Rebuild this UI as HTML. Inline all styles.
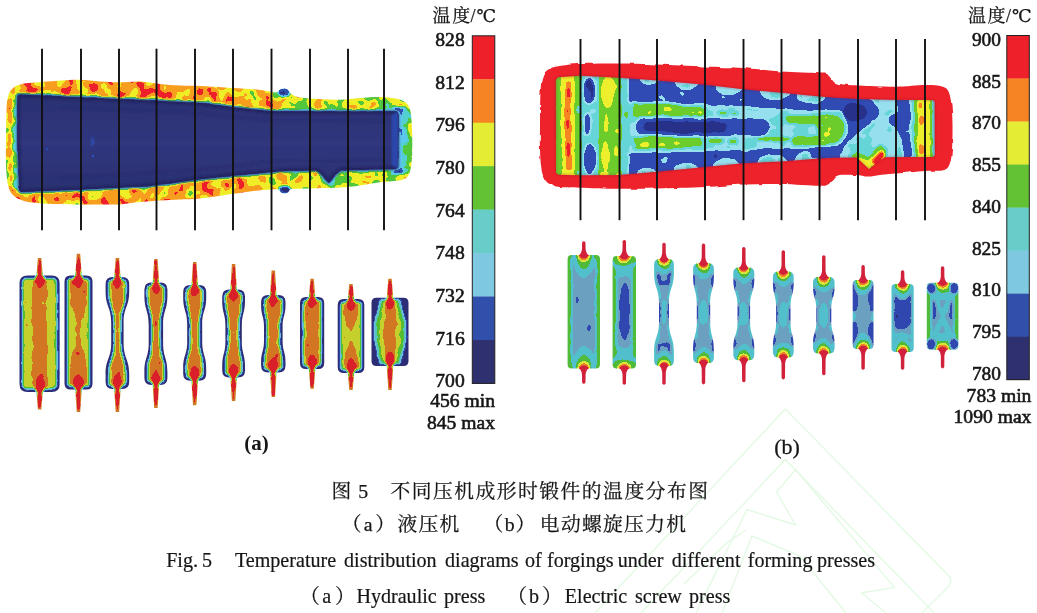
<!DOCTYPE html>
<html lang="zh"><head><meta charset="utf-8"><title>Fig. 5</title>
<style>html,body{margin:0;padding:0;background:#fff}body{width:1037px;height:613px;overflow:hidden;position:relative}svg{position:absolute;left:0;top:0;display:block}text{fill:#161616}</style>
</head><body>
<svg width="1037" height="613" viewBox="0 0 1037 613">
<defs>
<clipPath id="cOA"><path d="M6.0 140.0 C6.1 130.8 6.2 117.2 6.5 110.0 C6.8 102.8 7.1 100.5 8.0 97.0 C8.9 93.5 9.7 91.2 12.0 89.0 C14.3 86.8 17.0 85.2 22.0 84.0 C27.0 82.8 35.3 82.6 42.0 82.0 C48.7 81.4 55.7 80.9 62.0 80.5 C68.3 80.1 73.7 79.6 80.0 79.8 C86.3 80.0 93.5 81.1 100.0 81.5 C106.5 81.9 112.3 82.3 119.0 82.3 C125.7 82.3 133.2 81.2 140.0 81.5 C146.8 81.8 153.3 83.3 160.0 84.0 C166.7 84.7 173.3 85.2 180.0 85.5 C186.7 85.8 192.5 85.7 200.0 86.0 C207.5 86.3 216.7 87.0 225.0 87.5 C233.3 88.0 243.3 88.5 250.0 89.0 C256.7 89.5 261.5 90.3 265.0 90.8 C268.5 91.2 269.0 91.5 271.0 91.7 C273.0 92.0 275.5 92.7 277.0 92.3 C278.5 91.9 278.8 90.2 280.0 89.6 C281.2 89.0 282.7 88.6 284.0 88.6 C285.3 88.6 286.8 88.9 288.0 89.8 C289.2 90.7 289.0 92.5 291.0 93.8 C293.0 95.1 294.3 96.5 300.0 97.4 C305.7 98.3 318.3 98.9 325.0 99.3 C331.7 99.7 334.2 99.9 340.0 99.7 C345.8 99.5 353.3 98.5 360.0 98.0 C366.7 97.5 374.2 96.9 380.0 97.0 C385.8 97.1 390.8 97.8 395.0 98.6 C399.2 99.4 402.5 100.1 405.0 102.0 C407.5 103.9 409.1 106.2 410.2 110.0 C411.3 113.8 411.4 119.2 411.8 125.0 C412.2 130.8 412.3 138.8 412.3 145.0 C412.3 151.2 412.2 157.2 411.6 162.0 C411.1 166.8 410.4 171.1 409.0 174.0 C407.6 176.9 406.2 178.3 403.0 179.6 C399.8 180.8 393.8 181.1 390.0 181.5 C386.2 181.9 385.0 181.6 380.0 182.3 C375.0 183.0 366.7 184.6 360.0 185.5 C353.3 186.4 347.5 187.1 340.0 187.6 C332.5 188.1 321.7 188.1 315.0 188.3 C308.3 188.5 304.0 188.6 300.0 188.7 C296.0 188.8 293.0 188.4 291.0 189.0 C289.0 189.6 289.1 191.7 288.0 192.4 C286.9 193.1 285.7 193.4 284.5 193.4 C283.3 193.4 282.1 193.0 281.0 192.4 C279.9 191.8 279.8 190.1 278.0 189.6 C276.2 189.1 274.7 189.2 270.0 189.5 C265.3 189.8 257.5 190.6 250.0 191.5 C242.5 192.4 233.3 193.8 225.0 195.0 C216.7 196.2 207.5 197.8 200.0 198.5 C192.5 199.2 186.7 199.2 180.0 199.5 C173.3 199.8 166.7 200.1 160.0 200.5 C153.3 200.9 146.8 201.3 140.0 202.0 C133.2 202.7 125.7 204.0 119.0 204.4 C112.3 204.8 106.5 204.5 100.0 204.5 C93.5 204.5 86.7 204.7 80.0 204.6 C73.3 204.5 66.3 204.2 60.0 204.0 C53.7 203.8 48.0 203.9 42.0 203.4 C36.0 202.9 28.8 202.4 24.0 201.0 C19.2 199.6 15.7 197.7 13.0 195.0 C10.3 192.3 9.2 190.0 8.0 185.0 C6.8 180.0 6.3 172.5 6.0 165.0 C5.7 157.5 5.9 149.2 6.0 140.0Z"/></clipPath>
<filter id="jA" filterUnits="userSpaceOnUse" x="0" y="70" width="425" height="145" color-interpolation-filters="sRGB"><feGaussianBlur in="SourceGraphic" stdDeviation="1.3" result="f"/><feTurbulence type="fractalNoise" baseFrequency="0.08" numOctaves="2" seed="7" result="t"/><feColorMatrix in="t" type="matrix" values="1 0 0 0 0 1 0 0 0 0 1 0 0 0 0 0 0 0 0 1" result="n"/><feComposite in="f" in2="n" operator="arithmetic" k1="0" k2="1" k3="0.62" k4="-0.3100" result="v"/><feComponentTransfer in="v" result="q"><feFuncR type="discrete" tableValues="0.157 0.192 0.361 0.322 0.322 0.941 0.976 0.933"/><feFuncG type="discrete" tableValues="0.188 0.314 0.784 0.816 0.784 0.933 0.620 0.125"/><feFuncB type="discrete" tableValues="0.486 0.671 0.933 0.816 0.235 0.149 0.125 0.165"/></feComponentTransfer><feGaussianBlur in="q" stdDeviation="0.55"/></filter>
<linearGradient id="gAr" x1="0" x2="425" y1="0" y2="0" gradientUnits="userSpaceOnUse"><stop offset="0" stop-color="rgb(207,207,207)"/><stop offset="0.52" stop-color="rgb(207,207,207)"/><stop offset="0.70" stop-color="rgb(177,177,177)"/><stop offset="0.93" stop-color="rgb(159,159,159)"/></linearGradient>
<filter id="soft1" x="-5%" y="-5%" width="110%" height="110%"><feGaussianBlur stdDeviation="0.8"/></filter>
<linearGradient id="gNavy" x1="0" x2="0" y1="95" y2="190" gradientUnits="userSpaceOnUse"><stop offset="0" stop-color="#2b3071"/><stop offset="0.5" stop-color="#30377d"/><stop offset="1" stop-color="#2b3071"/></linearGradient>
<clipPath id="cIA"><path d="M17.5,96.0 L19.0,94.6 L80.0,97.5 L150.0,100.6 L200.0,103.0 L235.0,107.5 L271.0,111.2 L320.0,111.4 L380.0,111.4 L396.0,111.6 L398.0,113.5 L398.3,140.0 L398.0,167.0 L396.0,169.0 L341.0,170.3 L335.0,175.0 L328.5,182.5 L322.0,175.0 L317.0,170.5 L290.0,170.5 L271.0,172.0 L235.0,175.5 L200.0,179.3 L150.0,186.0 L80.0,189.5 L21.0,191.8 L19.3,190.0 L17.6,143.0Z"/></clipPath>
<clipPath id="cIB"><path d="M555.8,80.0 L558.0,77.3 L580.0,75.8 L619.0,77.7 L657.0,80.5 L705.0,84.7 L743.0,89.2 L781.0,92.8 L819.0,96.5 L835.0,97.7 L858.0,99.0 L896.0,100.0 L925.0,100.0 L933.0,100.3 L934.6,102.0 L934.8,155.0 L933.0,157.0 L896.0,157.0 L884.4,157.2 L876.0,163.5 L869.0,169.0 L862.0,162.5 L857.0,157.5 L835.0,157.7 L819.0,158.5 L781.0,161.4 L743.0,163.2 L705.0,167.0 L657.0,171.8 L619.0,175.0 L580.0,175.2 L558.0,174.7 L556.0,172.5Z"/></clipPath>
<filter id="jB" filterUnits="userSpaceOnUse" x="545" y="65" width="400" height="120" color-interpolation-filters="sRGB"><feGaussianBlur in="SourceGraphic" stdDeviation="1.05" result="f"/><feTurbulence type="fractalNoise" baseFrequency="0.065" numOctaves="2" seed="11" result="t"/><feColorMatrix in="t" type="matrix" values="1 0 0 0 0 1 0 0 0 0 1 0 0 0 0 0 0 0 0 1" result="n"/><feComposite in="f" in2="n" operator="arithmetic" k1="0" k2="1" k3="0.24" k4="-0.1200" result="v"/><feComponentTransfer in="v" result="q"><feFuncR type="discrete" tableValues="0.157 0.196 0.588 0.400 0.424 0.933 0.965 0.933"/><feFuncG type="discrete" tableValues="0.196 0.298 0.878 0.839 0.800 0.941 0.518 0.125"/><feFuncB type="discrete" tableValues="0.541 0.706 0.941 0.847 0.173 0.173 0.141 0.165"/></feComponentTransfer><feGaussianBlur in="q" stdDeviation="0.55"/></filter>
<filter id="wob" x="-3%" y="-10%" width="106%" height="120%"><feTurbulence type="fractalNoise" baseFrequency="0.07" numOctaves="2" seed="4" result="t"/><feDisplacementMap in="SourceGraphic" in2="t" scale="3.5" xChannelSelector="R" yChannelSelector="G"/><feGaussianBlur stdDeviation="0.5"/></filter>
<filter id="jSA" filterUnits="userSpaceOnUse" x="10" y="250" width="410" height="165" color-interpolation-filters="sRGB"><feGaussianBlur in="SourceGraphic" stdDeviation="1.0" result="f"/><feTurbulence type="fractalNoise" baseFrequency="0.1" numOctaves="2" seed="2" result="t"/><feColorMatrix in="t" type="matrix" values="1 0 0 0 0 1 0 0 0 0 1 0 0 0 0 0 0 0 0 1" result="n"/><feComposite in="f" in2="n" operator="arithmetic" k1="0" k2="1" k3="0.2" k4="-0.1000" result="v"/><feComponentTransfer in="v" result="q"><feFuncR type="discrete" tableValues="0.173 0.184 0.439 0.345 0.337 0.776 0.824 0.851"/><feFuncG type="discrete" tableValues="0.180 0.298 0.737 0.769 0.745 0.816 0.463 0.125"/><feFuncB type="discrete" tableValues="0.455 0.682 0.847 0.753 0.204 0.173 0.141 0.165"/></feComponentTransfer><feGaussianBlur in="q" stdDeviation="0.55"/></filter>
<clipPath id="cSA"><path d="M27.5 275.5 L51.7 275.5 Q59.7 275.5 59.7 283.5 L59.7 384.0 Q59.7 392.0 51.7 392.0 L27.5 392.0 Q19.5 392.0 19.5 384.0 L19.5 283.5 Q19.5 275.5 27.5 275.5Z"/><path d="M37.9 258.1 L41.3 258.1 L43.0 277.5 L36.2 277.5Z"/><path d="M37.9 409.5 L41.3 409.5 L43.0 390.0 L36.2 390.0Z"/><path d="M70.5 275.5 L86.5 275.5 Q92.5 275.5 92.5 281.5 L92.5 383.5 Q92.5 389.5 86.5 389.5 L70.5 389.5 Q64.5 389.5 64.5 383.5 L64.5 281.5 Q64.5 275.5 70.5 275.5Z"/><path d="M76.8 253.8 L80.2 253.8 L81.9 277.5 L75.1 277.5Z"/><path d="M76.8 411.9 L80.2 411.9 L81.9 387.5 L75.1 387.5Z"/><path d="M112.6 277.0 L122.2 277.0 Q129.2 277.0 129.2 284.0 L129.2 291.6 C129.2 307.2 123.6 307.2 123.6 322.9 L123.6 343.1 C123.6 358.8 129.2 358.8 129.2 374.4 L129.2 382.0 Q129.2 389.0 122.2 389.0 L112.6 389.0 Q105.6 389.0 105.6 382.0 L105.6 374.4 C105.6 358.8 111.2 358.8 111.2 343.1 L111.2 322.9 C111.2 307.2 105.6 307.2 105.6 291.6 L105.6 284.0 Q105.6 277.0 112.6 277.0Z"/><path d="M115.7 258.1 L119.1 258.1 L120.8 279.0 L114.0 279.0Z"/><path d="M115.7 411.9 L119.1 411.9 L120.8 387.0 L114.0 387.0Z"/><path d="M151.4 282.4 L160.4 282.4 Q167.4 282.4 167.4 289.4 L167.4 295.7 C167.4 310.1 163.1 310.1 163.1 324.5 L163.1 342.9 C163.1 357.3 167.4 357.3 167.4 371.7 L167.4 378.0 Q167.4 385.0 160.4 385.0 L151.4 385.0 Q144.4 385.0 144.4 378.0 L144.4 371.7 C144.4 357.3 148.7 357.3 148.7 342.9 L148.7 324.5 C148.7 310.1 144.4 310.1 144.4 295.7 L144.4 289.4 Q144.4 282.4 151.4 282.4Z"/><path d="M154.2 259.1 L157.6 259.1 L159.3 284.4 L152.5 284.4Z"/><path d="M154.2 407.9 L157.6 407.9 L159.3 383.0 L152.5 383.0Z"/><path d="M190.2 285.0 L199.2 285.0 Q206.2 285.0 206.2 292.0 L206.2 297.5 C206.2 310.9 202.2 310.9 202.2 324.3 L202.2 341.5 C202.2 354.9 206.2 354.9 206.2 368.3 L206.2 373.8 Q206.2 380.8 199.2 380.8 L190.2 380.8 Q183.2 380.8 183.2 373.8 L183.2 368.3 C183.2 354.9 187.2 354.9 187.2 341.5 L187.2 324.3 C187.2 310.9 183.2 310.9 183.2 297.5 L183.2 292.0 Q183.2 285.0 190.2 285.0Z"/><path d="M193.0 262.1 L196.4 262.1 L198.1 287.0 L191.3 287.0Z"/><path d="M193.0 405.3 L196.4 405.3 L198.1 378.8 L191.3 378.8Z"/><path d="M229.2 289.4 L238.0 289.4 Q245.0 289.4 245.0 296.4 L245.0 300.9 C245.0 313.2 241.8 313.2 241.8 325.5 L241.8 341.4 C241.8 353.7 245.0 353.7 245.0 366.0 L245.0 370.5 Q245.0 377.5 238.0 377.5 L229.2 377.5 Q222.2 377.5 222.2 370.5 L222.2 366.0 C222.2 353.7 225.4 353.7 225.4 341.4 L225.4 325.5 C225.4 313.2 222.2 313.2 222.2 300.9 L222.2 296.4 Q222.2 289.4 229.2 289.4Z"/><path d="M231.9 264.1 L235.3 264.1 L237.0 291.4 L230.2 291.4Z"/><path d="M231.9 400.9 L235.3 400.9 L237.0 375.5 L230.2 375.5Z"/><path d="M268.1 295.0 L278.5 295.0 Q285.5 295.0 285.5 302.0 L285.5 305.1 C285.5 316.0 282.6 316.0 282.6 326.8 L282.6 340.8 C282.6 351.6 285.5 351.6 285.5 362.5 L285.5 365.6 Q285.5 372.6 278.5 372.6 L268.1 372.6 Q261.1 372.6 261.1 365.6 L261.1 362.5 C261.1 351.6 264.0 351.6 264.0 340.8 L264.0 326.8 C264.0 316.0 261.1 316.0 261.1 305.1 L261.1 302.0 Q261.1 295.0 268.1 295.0Z"/><path d="M271.6 270.4 L275.0 270.4 L276.7 297.0 L269.9 297.0Z"/><path d="M271.6 396.9 L275.0 396.9 L276.7 370.6 L269.9 370.6Z"/><path d="M306.0 297.0 L318.2 297.0 Q324.2 297.0 324.2 303.0 L324.2 363.0 Q324.2 369.0 318.2 369.0 L306.0 369.0 Q300.0 369.0 300.0 363.0 L300.0 303.0 Q300.0 297.0 306.0 297.0Z"/><path d="M310.4 278.8 L313.8 278.8 L315.5 299.0 L308.7 299.0Z"/><path d="M310.4 388.7 L313.8 388.7 L315.5 367.0 L308.7 367.0Z"/><path d="M343.7 299.0 L358.3 299.0 Q364.3 299.0 364.3 305.0 L364.3 367.0 Q364.3 373.0 358.3 373.0 L343.7 373.0 Q337.7 373.0 337.7 367.0 L337.7 305.0 Q337.7 299.0 343.7 299.0Z"/><path d="M349.3 284.1 L352.7 284.1 L354.4 301.0 L347.6 301.0Z"/><path d="M349.3 389.9 L352.7 389.9 L354.4 371.0 L347.6 371.0Z"/><path d="M376.5 297.7 L403.5 297.7 Q408.5 297.7 408.5 302.7 L408.5 361.0 Q408.5 366.0 403.5 366.0 L376.5 366.0 Q371.5 366.0 371.5 361.0 L371.5 302.7 Q371.5 297.7 376.5 297.7Z"/><path d="M388.3 278.8 L391.7 278.8 L393.4 299.7 L386.6 299.7Z"/><path d="M388.3 389.9 L391.7 389.9 L393.4 364.0 L386.6 364.0Z"/></clipPath>
<filter id="jSB" filterUnits="userSpaceOnUse" x="560" y="235" width="405" height="155" color-interpolation-filters="sRGB"><feGaussianBlur in="SourceGraphic" stdDeviation="0.9" result="f"/><feTurbulence type="fractalNoise" baseFrequency="0.09" numOctaves="2" seed="5" result="t"/><feColorMatrix in="t" type="matrix" values="1 0 0 0 0 1 0 0 0 0 1 0 0 0 0 0 0 0 0 1" result="n"/><feComposite in="f" in2="n" operator="arithmetic" k1="0" k2="1" k3="0.14" k4="-0.0700" result="v"/><feComponentTransfer in="v" result="q"><feFuncR type="discrete" tableValues="0.184 0.188 0.420 0.322 0.314 0.863 0.933 0.863"/><feFuncG type="discrete" tableValues="0.188 0.282 0.631 0.753 0.737 0.894 0.518 0.125"/><feFuncB type="discrete" tableValues="0.439 0.690 0.753 0.800 0.235 0.227 0.157 0.188"/></feComponentTransfer><feGaussianBlur in="q" stdDeviation="0.55"/></filter>
<clipPath id="cSB"><path d="M571.6 255.0 L596.0 255.0 Q600.0 255.0 600.0 259.0 L600.0 364.6 Q600.0 368.6 596.0 368.6 L571.6 368.6 Q567.6 368.6 567.6 364.6 L567.6 259.0 Q567.6 255.0 571.6 255.0Z"/><path d="M616.6 256.0 L632.0 256.0 Q636.0 256.0 636.0 260.0 L636.0 364.6 Q636.0 368.6 632.0 368.6 L616.6 368.6 Q612.6 368.6 612.6 364.6 L612.6 260.0 Q612.6 256.0 616.6 256.0Z"/><path d="M659.6 259.0 L668.4 259.0 Q673.9 259.0 673.9 264.5 L673.9 272.9 C673.9 287.9 669.0 287.9 669.0 302.9 L669.0 322.1 C669.0 337.1 673.9 337.1 673.9 352.1 L673.9 360.5 Q673.9 366.0 668.4 366.0 L659.6 366.0 Q654.1 366.0 654.1 360.5 L654.1 352.1 C654.1 337.1 659.0 337.1 659.0 322.1 L659.0 302.9 C659.0 287.9 654.1 287.9 654.1 272.9 L654.1 264.5 Q654.1 259.0 659.6 259.0Z"/><path d="M698.6 263.3 L708.4 263.3 Q713.9 263.3 713.9 268.8 L713.9 276.3 C713.9 290.2 710.2 290.2 710.2 304.2 L710.2 322.1 C710.2 336.1 713.9 336.1 713.9 350.0 L713.9 357.5 Q713.9 363.0 708.4 363.0 L698.6 363.0 Q693.1 363.0 693.1 357.5 L693.1 350.0 C693.1 336.1 696.8 336.1 696.8 322.1 L696.8 304.2 C696.8 290.2 693.1 290.2 693.1 276.3 L693.1 268.8 Q693.1 263.3 698.6 263.3Z"/><path d="M738.8 267.4 L748.8 267.4 Q754.3 267.4 754.3 272.9 L754.3 279.5 C754.3 292.5 750.1 292.5 750.1 305.5 L750.1 322.2 C750.1 335.2 754.3 335.2 754.3 348.2 L754.3 354.8 Q754.3 360.3 748.8 360.3 L738.8 360.3 Q733.3 360.3 733.3 354.8 L733.3 348.2 C733.3 335.2 737.5 335.2 737.5 322.2 L737.5 305.5 C737.5 292.5 733.3 292.5 733.3 279.5 L733.3 272.9 Q733.3 267.4 738.8 267.4Z"/><path d="M778.4 271.6 L788.2 271.6 Q793.7 271.6 793.7 277.1 L793.7 282.8 C793.7 294.8 790.5 294.8 790.5 306.8 L790.5 322.3 C790.5 334.3 793.7 334.3 793.7 346.3 L793.7 352.0 Q793.7 357.5 788.2 357.5 L778.4 357.5 Q772.9 357.5 772.9 352.0 L772.9 346.3 C772.9 334.3 776.1 334.3 776.1 322.3 L776.1 306.8 C776.1 294.8 772.9 294.8 772.9 282.8 L772.9 277.1 Q772.9 271.6 778.4 271.6Z"/><path d="M818.5 277.0 L829.1 277.0 Q834.6 277.0 834.6 282.5 L834.6 286.9 C834.6 297.6 831.3 297.6 831.3 308.3 L831.3 322.1 C831.3 332.8 834.6 332.8 834.6 343.5 L834.6 347.9 Q834.6 353.4 829.1 353.4 L818.5 353.4 Q813.0 353.4 813.0 347.9 L813.0 343.5 C813.0 332.8 816.3 332.8 816.3 322.1 L816.3 308.3 C816.3 297.6 813.0 297.6 813.0 286.9 L813.0 282.5 Q813.0 277.0 818.5 277.0Z"/><path d="M856.7 280.0 L869.5 280.0 Q873.5 280.0 873.5 284.0 L873.5 345.0 Q873.5 349.0 869.5 349.0 L856.7 349.0 Q852.7 349.0 852.7 345.0 L852.7 284.0 Q852.7 280.0 856.7 280.0Z"/><path d="M895.5 284.0 L909.7 284.0 Q913.7 284.0 913.7 288.0 L913.7 348.0 Q913.7 352.0 909.7 352.0 L895.5 352.0 Q891.5 352.0 891.5 348.0 L891.5 288.0 Q891.5 284.0 895.5 284.0Z"/><path d="M930.8 282.7 L954.4 282.7 Q958.4 282.7 958.4 286.7 L958.4 345.8 Q958.4 349.8 954.4 349.8 L930.8 349.8 Q926.8 349.8 926.8 345.8 L926.8 286.7 Q926.8 282.7 930.8 282.7Z"/></clipPath>
<filter id="soft2" x="-20%" y="-5%" width="140%" height="110%"><feGaussianBlur stdDeviation="0.55"/></filter>
</defs>
<g fill="none" stroke="#e4f9e4" stroke-width="1.4" stroke-linejoin="round"><path d="M595 613 L785.3 409 L948 575 Q953.5 581 948 587 L922 613"/><path d="M641 613 L785.3 459.5 L934 613"/><path d="M696 613 L747 509.5 L795.6 525 L776.5 492 L795.6 469.5 L894.6 587.6 L861.6 592.8 L886 613"/><path d="M722 613 L752 536 L800 556 L846 613"/><path d="M684 584 L726.6 543 L746 530"/></g>
<g><rect x="472.3" y="35.80" width="22.5" height="43.75" fill="#ee202a"/><rect x="472.3" y="79.25" width="22.5" height="43.75" fill="#f68424"/><rect x="472.3" y="122.70" width="22.5" height="43.75" fill="#e4ec34"/><rect x="472.3" y="166.15" width="22.5" height="43.75" fill="#62c234"/><rect x="472.3" y="209.60" width="22.5" height="43.75" fill="#68cdc9"/><rect x="472.3" y="253.05" width="22.5" height="43.75" fill="#7fc8e1"/><rect x="472.3" y="296.50" width="22.5" height="43.75" fill="#3150ab"/><rect x="472.3" y="339.95" width="22.5" height="43.75" fill="#2f3070"/><rect x="472.3" y="35.8" width="22.5" height="347.59999999999997" fill="none" stroke="#222" stroke-width="1"/></g>
<g><rect x="1006.8" y="35.50" width="22.5" height="43.32" fill="#ee202a"/><rect x="1006.8" y="78.53" width="22.5" height="43.32" fill="#f68424"/><rect x="1006.8" y="121.55" width="22.5" height="43.32" fill="#e4ec34"/><rect x="1006.8" y="164.57" width="22.5" height="43.32" fill="#62c234"/><rect x="1006.8" y="207.60" width="22.5" height="43.32" fill="#68cdc9"/><rect x="1006.8" y="250.62" width="22.5" height="43.32" fill="#7fc8e1"/><rect x="1006.8" y="293.65" width="22.5" height="43.32" fill="#3150ab"/><rect x="1006.8" y="336.68" width="22.5" height="43.32" fill="#2f3070"/><rect x="1006.8" y="35.5" width="22.5" height="344.2" fill="none" stroke="#222" stroke-width="1"/></g>
<text x="464.7" y="45.8" font-size="19.6" font-weight="normal" text-anchor="end" font-family='"Liberation Serif","Noto Serif CJK SC",serif' stroke="#161616" stroke-width="0.6">828</text>
<text x="464.7" y="88.5" font-size="19.6" font-weight="normal" text-anchor="end" font-family='"Liberation Serif","Noto Serif CJK SC",serif' stroke="#161616" stroke-width="0.6">812</text>
<text x="464.7" y="131.2" font-size="19.6" font-weight="normal" text-anchor="end" font-family='"Liberation Serif","Noto Serif CJK SC",serif' stroke="#161616" stroke-width="0.6">796</text>
<text x="464.7" y="173.90000000000003" font-size="19.6" font-weight="normal" text-anchor="end" font-family='"Liberation Serif","Noto Serif CJK SC",serif' stroke="#161616" stroke-width="0.6">780</text>
<text x="464.7" y="216.60000000000002" font-size="19.6" font-weight="normal" text-anchor="end" font-family='"Liberation Serif","Noto Serif CJK SC",serif' stroke="#161616" stroke-width="0.6">764</text>
<text x="464.7" y="259.3" font-size="19.6" font-weight="normal" text-anchor="end" font-family='"Liberation Serif","Noto Serif CJK SC",serif' stroke="#161616" stroke-width="0.6">748</text>
<text x="464.7" y="302.00000000000006" font-size="19.6" font-weight="normal" text-anchor="end" font-family='"Liberation Serif","Noto Serif CJK SC",serif' stroke="#161616" stroke-width="0.6">732</text>
<text x="464.7" y="344.70000000000005" font-size="19.6" font-weight="normal" text-anchor="end" font-family='"Liberation Serif","Noto Serif CJK SC",serif' stroke="#161616" stroke-width="0.6">716</text>
<text x="464.7" y="387.40000000000003" font-size="19.6" font-weight="normal" text-anchor="end" font-family='"Liberation Serif","Noto Serif CJK SC",serif' stroke="#161616" stroke-width="0.6">700</text>
<text x="1001.0" y="45.8" font-size="19.4" font-weight="normal" text-anchor="end" font-family='"Liberation Serif","Noto Serif CJK SC",serif' stroke="#161616" stroke-width="0.6">900</text>
<text x="1001.0" y="87.56" font-size="19.4" font-weight="normal" text-anchor="end" font-family='"Liberation Serif","Noto Serif CJK SC",serif' stroke="#161616" stroke-width="0.6">885</text>
<text x="1001.0" y="129.32" font-size="19.4" font-weight="normal" text-anchor="end" font-family='"Liberation Serif","Noto Serif CJK SC",serif' stroke="#161616" stroke-width="0.6">870</text>
<text x="1001.0" y="171.07999999999998" font-size="19.4" font-weight="normal" text-anchor="end" font-family='"Liberation Serif","Noto Serif CJK SC",serif' stroke="#161616" stroke-width="0.6">855</text>
<text x="1001.0" y="212.83999999999997" font-size="19.4" font-weight="normal" text-anchor="end" font-family='"Liberation Serif","Noto Serif CJK SC",serif' stroke="#161616" stroke-width="0.6">840</text>
<text x="1001.0" y="254.59999999999997" font-size="19.4" font-weight="normal" text-anchor="end" font-family='"Liberation Serif","Noto Serif CJK SC",serif' stroke="#161616" stroke-width="0.6">825</text>
<text x="1001.0" y="296.36" font-size="19.4" font-weight="normal" text-anchor="end" font-family='"Liberation Serif","Noto Serif CJK SC",serif' stroke="#161616" stroke-width="0.6">810</text>
<text x="1001.0" y="338.12" font-size="19.4" font-weight="normal" text-anchor="end" font-family='"Liberation Serif","Noto Serif CJK SC",serif' stroke="#161616" stroke-width="0.6">795</text>
<text x="1001.0" y="379.88" font-size="19.4" font-weight="normal" text-anchor="end" font-family='"Liberation Serif","Noto Serif CJK SC",serif' stroke="#161616" stroke-width="0.6">780</text>
<text x="495" y="406.8" font-size="19.6" font-weight="normal" text-anchor="end" font-family='"Liberation Serif","Noto Serif CJK SC",serif' stroke="#161616" stroke-width="0.6">456 min</text>
<text x="495" y="428.6" font-size="19.6" font-weight="normal" text-anchor="end" font-family='"Liberation Serif","Noto Serif CJK SC",serif' stroke="#161616" stroke-width="0.6">845 max</text>
<text x="1031.4" y="401.6" font-size="19.6" font-weight="normal" text-anchor="end" font-family='"Liberation Serif","Noto Serif CJK SC",serif' stroke="#161616" stroke-width="0.6">783 min</text>
<text x="1031.4" y="423.3" font-size="19.6" font-weight="normal" text-anchor="end" font-family='"Liberation Serif","Noto Serif CJK SC",serif' stroke="#161616" stroke-width="0.6">1090 max</text>
<text y="22.3" font-size="18" font-family='"Liberation Serif","DejaVu Serif","Noto Serif CJK SC",serif' stroke="#161616" stroke-width="0.25"><tspan x="432.6" letter-spacing="1.6">温度</tspan><tspan x="470.6">/</tspan><tspan x="476.6" font-size="17.5">℃</tspan></text>
<text y="22.3" font-size="18" font-family='"Liberation Serif","DejaVu Serif","Noto Serif CJK SC",serif' stroke="#161616" stroke-width="0.25"><tspan x="968" letter-spacing="1.6">温度</tspan><tspan x="1006">/</tspan><tspan x="1012" font-size="17.5">℃</tspan></text>
<text x="256.5" y="449.5" font-size="21" font-weight="bold" text-anchor="middle" font-family='"Liberation Serif","Noto Serif CJK SC",serif' >(a)</text>
<text x="787.1" y="454.2" font-size="22" font-weight="normal" text-anchor="middle" font-family='"Liberation Serif","Noto Serif CJK SC",serif' stroke="#161616" stroke-width="0.3">(b)</text>
<text y="497.6" font-size="19.8" stroke="#161616" stroke-width="0.25" font-family='"Liberation Serif","Noto Serif CJK SC",serif'><tspan x="331.6">图 </tspan><tspan x="358.2">5　</tspan><tspan x="390.4" letter-spacing="1.49">不同压机成形时锻件的温度分布图</tspan></text>
<text y="531.3" font-size="19.8" stroke="#161616" stroke-width="0.25" font-family='"Liberation Serif","Noto Serif CJK SC",serif'><tspan x="341.7">（</tspan><tspan x="363.8">a</tspan><tspan x="375.3">）</tspan><tspan x="397.6" letter-spacing="1.2">液压机　</tspan><tspan x="483.4">（</tspan><tspan x="504.8">b</tspan><tspan x="515.6">）</tspan><tspan x="539.8" letter-spacing="1.3">电动螺旋压力机</tspan></text>
<text y="567" font-size="20.1" stroke="#161616" stroke-width="0.2" font-family='"Liberation Serif","Noto Serif CJK SC",serif'><tspan x="166.2">Fig. </tspan><tspan x="202">5 </tspan><tspan x="234.9">Temperature </tspan><tspan x="344">distribution </tspan><tspan x="445">diagrams </tspan><tspan x="525">of </tspan><tspan x="547">forgings </tspan><tspan x="617.7">under </tspan><tspan x="671.7">different </tspan><tspan x="747.7">forming </tspan><tspan x="817">presses</tspan></text>
<text y="602.5" font-size="20.1" stroke="#161616" stroke-width="0.2" font-family='"Liberation Serif","Noto Serif CJK SC",serif'><tspan x="299.7">（</tspan><tspan x="322.2">a</tspan><tspan x="335">）</tspan><tspan x="356.4">Hydraulic </tspan><tspan x="444">press　</tspan><tspan x="507">（</tspan><tspan x="529">b</tspan><tspan x="542">）</tspan><tspan x="564.8">Electric </tspan><tspan x="635">screw </tspan><tspan x="689">press</tspan></text>
<g clip-path="url(#cOA)"><g filter="url(#jA)"><rect x="0" y="70" width="425" height="145" fill="url(#gAr)"/><path d="M9 92 L5 110 L5 170 L9 195" fill="none" stroke="rgb(175,175,175)" stroke-width="5"/><path d="M15 99 L14.5 140 L15.5 188" fill="none" stroke="rgb(131,131,131)" stroke-width="5"/><ellipse cx="284" cy="92" rx="6.5" ry="4.8" fill="rgb(35,35,35)"/><ellipse cx="284.5" cy="190.3" rx="6.5" ry="4.6" fill="rgb(35,35,35)"/><path d="M398 108 L398 172" fill="none" stroke="rgb(67,67,67)" stroke-width="9"/><path d="M405 108 L405 172" fill="none" stroke="rgb(118,118,118)" stroke-width="5"/><path d="M394 108 L404 108 L400 120 Z M394 172.5 L403 172.5 L400 162 Z" fill="rgb(41,41,41)" stroke="rgb(41,41,41)" stroke-width="2"/><path d="M17.5,96.0 L19.0,94.6 L80.0,97.5 L150.0,100.6 L200.0,103.0 L235.0,107.5 L271.0,111.2 L320.0,111.4 L380.0,111.4 L396.0,111.6 L398.0,113.5 L398.3,140.0 L398.0,167.0 L396.0,169.0 L341.0,170.3 L335.0,175.0 L328.5,182.5 L322.0,175.0 L317.0,170.5 L290.0,170.5 L271.0,172.0 L235.0,175.5 L200.0,179.3 L150.0,186.0 L80.0,189.5 L21.0,191.8 L19.3,190.0 L17.6,143.0Z" fill="rgb(16,16,16)" stroke="rgb(112,112,112)" stroke-width="3.6" stroke-linejoin="round"/><path d="M17.5,96.0 L19.0,94.6 L80.0,97.5 L150.0,100.6 L200.0,103.0 L235.0,107.5 L271.0,111.2 L320.0,111.4 L380.0,111.4 L396.0,111.6 L398.0,113.5 L398.3,140.0 L398.0,167.0 L396.0,169.0 L341.0,170.3 L335.0,175.0 L328.5,182.5 L322.0,175.0 L317.0,170.5 L290.0,170.5 L271.0,172.0 L235.0,175.5 L200.0,179.3 L150.0,186.0 L80.0,189.5 L21.0,191.8 L19.3,190.0 L17.6,143.0Z" fill="rgb(0,0,0)"/></g></g><path d="M17.5,96.0 L19.0,94.6 L80.0,97.5 L150.0,100.6 L200.0,103.0 L235.0,107.5 L271.0,111.2 L320.0,111.4 L380.0,111.4 L396.0,111.6 L398.0,113.5 L398.3,140.0 L398.0,167.0 L396.0,169.0 L341.0,170.3 L335.0,175.0 L328.5,182.5 L322.0,175.0 L317.0,170.5 L290.0,170.5 L271.0,172.0 L235.0,175.5 L200.0,179.3 L150.0,186.0 L80.0,189.5 L21.0,191.8 L19.3,190.0 L17.6,143.0Z" fill="url(#gNavy)" stroke="#2a2e6e" stroke-width="1.5" filter="url(#soft1)"/><g clip-path="url(#cIA)"><path d="M17.5,96.0 L19.0,94.6 L80.0,97.5 L150.0,100.6 L200.0,103.0 L235.0,107.5 L271.0,111.2 L320.0,111.4 L380.0,111.4 L396.0,111.6 L398.0,113.5 L398.3,140.0 L398.0,167.0 L396.0,169.0 L341.0,170.3 L335.0,175.0 L328.5,182.5 L322.0,175.0 L317.0,170.5 L290.0,170.5 L271.0,172.0 L235.0,175.5 L200.0,179.3 L150.0,186.0 L80.0,189.5 L21.0,191.8 L19.3,190.0 L17.6,143.0Z" fill="none" stroke="#1f235c" stroke-opacity="0.8" stroke-width="5" filter="url(#soft1)"/><path d="M391.5 115 L398.5 111 L398.5 169 L391.5 165 Z" fill="#2c47ac" filter="url(#soft1)"/><path d="M60 108 L200 113 L270 121 L385 121.5 M60 178 L200 169.5 L270 161.5 L385 160" fill="none" stroke="#22276a" stroke-opacity="0.55" stroke-width="1.3" filter="url(#soft1)"/></g><path d="M92 136 L94.5 142 L91 148 Z" fill="#2b55c0" filter="url(#soft1)"/><circle cx="47" cy="149" r="1" fill="#2b55c0"/><circle cx="93" cy="156" r="1.2" fill="#2b55c0"/>
<path d="M540.0 128.0 C540.1 118.3 540.0 100.7 540.5 92.0 C541.0 83.3 541.4 79.9 543.0 76.0 C544.6 72.1 546.3 70.3 550.0 68.5 C553.7 66.7 560.0 66.0 565.0 65.3 C570.0 64.5 571.0 64.3 580.0 64.0 C589.0 63.7 606.2 63.4 619.0 63.5 C631.8 63.6 642.7 63.9 657.0 64.4 C671.3 64.9 690.7 65.9 705.0 66.5 C719.3 67.1 730.3 67.2 743.0 68.0 C755.7 68.8 768.3 70.6 781.0 71.5 C793.7 72.4 811.2 72.7 819.0 73.2 C826.8 73.7 825.8 73.5 828.0 74.5 C830.2 75.5 830.8 77.5 832.5 79.0 C834.2 80.5 833.8 82.4 838.0 83.5 C842.2 84.6 848.3 85.0 858.0 85.5 C867.7 86.0 884.8 86.8 896.0 86.7 C907.2 86.6 917.7 85.1 925.0 85.0 C932.3 84.9 936.2 85.1 940.0 86.0 C943.8 86.9 946.1 87.3 948.0 90.5 C949.9 93.7 950.8 99.2 951.5 105.0 C952.2 110.8 952.4 117.5 952.5 125.0 C952.6 132.5 952.4 143.7 952.0 150.0 C951.6 156.3 951.3 159.7 950.0 163.0 C948.7 166.3 948.2 168.7 944.0 170.0 C939.8 171.3 933.0 170.4 925.0 171.0 C917.0 171.6 903.5 172.9 896.0 173.6 C888.5 174.3 884.7 174.5 880.0 175.0 C875.3 175.5 872.0 176.6 868.0 176.6 C864.0 176.6 861.0 175.2 856.0 175.0 C851.0 174.8 841.9 174.5 838.0 175.2 C834.1 175.9 834.2 177.4 832.5 179.0 C830.8 180.6 830.2 183.4 828.0 184.5 C825.8 185.6 826.8 185.9 819.0 185.8 C811.2 185.7 793.7 184.2 781.0 184.0 C768.3 183.8 755.7 184.0 743.0 184.5 C730.3 185.0 719.3 186.3 705.0 187.0 C690.7 187.7 671.3 188.1 657.0 188.4 C642.7 188.7 631.8 188.9 619.0 188.8 C606.2 188.7 589.8 188.0 580.0 187.7 C570.2 187.4 565.3 187.8 560.0 187.0 C554.7 186.2 551.0 185.5 548.0 183.0 C545.0 180.5 543.3 177.5 542.0 172.0 C540.7 166.5 540.3 157.3 540.0 150.0 C539.7 142.7 539.9 137.7 540.0 128.0Z" fill="#ee202a" filter="url(#wob)"/><g clip-path="url(#cIB)"><g filter="url(#jB)"><rect x="545" y="65" width="400" height="120" fill="rgb(96,96,96)"/><rect x="553" y="65" width="8.5" height="120" fill="rgb(143,143,143)"/><rect x="561" y="65" width="14.5" height="120" fill="rgb(175,175,175)"/><path d="M568.5 82 L567.5 120 L569 170" stroke="rgb(214,214,214)" stroke-width="5.5" fill="none"/><ellipse cx="568.5" cy="92.0" rx="1.6" ry="5" fill="rgb(249,249,249)"/><ellipse cx="568.0" cy="150.0" rx="1.6" ry="7" fill="rgb(249,249,249)"/><ellipse cx="568.0" cy="122.0" rx="1.3" ry="3" fill="rgb(249,249,249)"/><rect x="575.5" y="65" width="7" height="120" fill="rgb(134,134,134)"/><rect x="582.5" y="65" width="16" height="120" fill="rgb(99,99,99)"/><ellipse cx="589.0" cy="91.0" rx="6" ry="13" fill="rgb(41,41,41)"/><ellipse cx="587.5" cy="124.0" rx="3.2" ry="11" fill="rgb(41,41,41)"/><ellipse cx="590.0" cy="159.0" rx="6.5" ry="16" fill="rgb(41,41,41)"/><rect x="598.5" y="65" width="22.5" height="120" fill="rgb(145,145,145)"/><ellipse cx="608.0" cy="92.0" rx="7" ry="16" fill="rgb(175,175,175)"/><ellipse cx="606.0" cy="123.0" rx="3.2" ry="10" fill="rgb(175,175,175)"/><ellipse cx="605.5" cy="156.0" rx="4" ry="15" fill="rgb(175,175,175)"/><ellipse cx="616.0" cy="150.0" rx="2" ry="7" fill="rgb(175,175,175)"/><rect x="621" y="65" width="9" height="120" fill="rgb(108,108,108)"/><path d="M628.0,76.4 L660.0,78.8 L700.0,82.3 L740.0,86.8 L780.0,90.7 L820.0,94.6 L852.0,96.7 L852.0,112.0 L808.0,110.5 L760.0,108.0 L700.0,104.6 L660.0,103.0 L628.0,102.0Z" fill="rgb(48,48,48)"/><ellipse cx="649.0" cy="78.9" rx="9.5" ry="5.5" fill="rgb(91,91,91)"/><ellipse cx="686.5" cy="82.1" rx="12" ry="6.8" fill="rgb(91,91,91)"/><ellipse cx="728.7" cy="86.5" rx="14" ry="7.6" fill="rgb(91,91,91)"/><ellipse cx="775.0" cy="91.2" rx="15" ry="8.2" fill="rgb(91,91,91)"/><ellipse cx="812.0" cy="94.8" rx="14" ry="8" fill="rgb(91,91,91)"/><path d="M628.0,176.2 L660.0,173.5 L700.0,169.5 L740.0,165.5 L780.0,163.4 L820.0,160.4 L840.0,159.7 L840.0,146.0 L808.0,147.6 L760.0,149.0 L700.0,151.0 L660.0,152.3 L628.0,153.0Z" fill="rgb(48,48,48)"/><ellipse cx="646.6" cy="173.7" rx="10" ry="5.5" fill="rgb(91,91,91)"/><ellipse cx="686.5" cy="169.8" rx="12" ry="6.8" fill="rgb(91,91,91)"/><ellipse cx="726.5" cy="165.8" rx="14" ry="7.6" fill="rgb(91,91,91)"/><ellipse cx="773.0" cy="162.8" rx="14.5" ry="8" fill="rgb(91,91,91)"/><ellipse cx="806.0" cy="160.5" rx="12" ry="8" fill="rgb(91,91,91)"/><path d="M633 102.8 L668 103.5 L703 108.5 L703 114.5 L668 115.8 L633 116 Z" fill="rgb(143,143,143)" stroke="rgb(143,143,143)" stroke-width="1" stroke-linejoin="round"/><ellipse cx="667.5" cy="109.3" rx="4" ry="1.8" fill="rgb(188,188,188)"/><ellipse cx="722.0" cy="113.0" rx="5" ry="1.8" fill="rgb(150,150,150)"/><ellipse cx="735.0" cy="113.3" rx="4" ry="1.6" fill="rgb(150,150,150)"/><path d="M633 136.3 L668 137 L701 138.5 L701 145 L668 148.8 L633 149.5 Z" fill="rgb(143,143,143)" stroke="rgb(143,143,143)" stroke-width="1" stroke-linejoin="round"/><ellipse cx="645.0" cy="144.8" rx="5" ry="2.0" fill="rgb(191,191,191)"/><ellipse cx="662.0" cy="144.8" rx="4" ry="1.9" fill="rgb(191,191,191)"/><ellipse cx="716.0" cy="141.0" rx="8" ry="2.2" fill="rgb(150,150,150)"/><ellipse cx="733.0" cy="141.5" rx="4.5" ry="1.8" fill="rgb(150,150,150)"/><ellipse cx="772.0" cy="139.0" rx="19" ry="2.3" fill="rgb(150,150,150)"/><path d="M644 126 L700 126.2 L762 127.6 L700 128.2 Z" stroke="rgb(48,48,48)" stroke-width="17" stroke-linejoin="round" fill="rgb(48,48,48)"/><path d="M762 127.6 L776 127.8" stroke="rgb(48,48,48)" stroke-width="3" fill="none"/><path d="M649 126.3 L690 126.6 L722 127.2 L690 127.6 Z" stroke="rgb(0,0,0)" stroke-width="8.6" stroke-linejoin="round" fill="rgb(0,0,0)"/><path d="M790 119.5 L832 120 Q840 121 840 128 Q840 137 832 140 L796 141" stroke="rgb(143,143,143)" stroke-width="9.5" stroke-linecap="round" stroke-linejoin="round" fill="none"/><path d="M815 125 L838 124 L838 136 L818 136Z" fill="rgb(143,143,143)"/><ellipse cx="829.3" cy="129.0" rx="1.5" ry="2.5" fill="rgb(194,194,194)"/><ellipse cx="827.0" cy="134.0" rx="2.5" ry="1.6" fill="rgb(194,194,194)"/><path d="M833 96 L871 97 Q881 108 879 116 Q874 123 866 128 Q855 135 848 142 Q842 150 838 159 L812 159 L813 154 Q826 150 838 146 Q849 136 848 127 Q846 118 840 110 Z" fill="rgb(48,48,48)"/><path d="M808 148 L840 146 L838 159 L810 159Z" fill="rgb(48,48,48)"/><ellipse cx="854.7" cy="111.7" rx="11.5" ry="8.2" fill="rgb(0,0,0)"/><ellipse cx="851.0" cy="153.0" rx="7.5" ry="6" fill="rgb(86,86,86)"/><path d="M866 150 Q868 130 880 120 L897 112 L897 158 L866 158Z" fill="rgb(84,84,84)"/><path d="M880 98 L898 98 L898 116 L884 112Z" fill="rgb(86,86,86)"/><path d="M897.5 98 L910.5 98 L910.6 130 L911.2 160 L902.5 160 L901.5 140 L897 132 L889 124 L889.5 116 L897 112 Z" fill="rgb(48,48,48)"/><rect x="914" y="95" width="22" height="70" fill="rgb(143,143,143)"/><rect x="917.8" y="95" width="12.2" height="70" fill="rgb(178,178,178)"/><ellipse cx="921.3" cy="120.5" rx="2.6" ry="4.2" fill="rgb(214,214,214)"/><ellipse cx="921.5" cy="150.0" rx="2.8" ry="4.2" fill="rgb(214,214,214)"/><ellipse cx="920.5" cy="105.5" rx="1.2" ry="1.6" fill="rgb(245,245,245)"/><rect x="932" y="95" width="4" height="70" fill="rgb(112,112,112)"/><path d="M849 156.5 L857 151 L868 156.5 L880 144 L888.5 147.5 L887 157.5 L869 171.5 L856 160 Z" fill="rgb(143,143,143)"/><path d="M857 157 L868 161 L879 152 L878 161 L869 170.5 L860.5 163 Z" fill="rgb(182,182,182)" stroke="rgb(182,182,182)" stroke-width="1.2" stroke-linejoin="round"/><path d="M873 161.5 L882 151.5 L884 156 L876 165 Z" stroke="rgb(249,249,249)" stroke-width="2" stroke-linejoin="round" fill="rgb(249,249,249)"/><path d="M856.5 158.8 L861.5 163.5" stroke="rgb(220,220,220)" stroke-width="2.6" stroke-linecap="round" fill="none"/></g></g><path d="M555.8,80.0 L558.0,77.3 L580.0,75.8 L619.0,77.7 L657.0,80.5 L705.0,84.7 L743.0,89.2 L781.0,92.8 L819.0,96.5 L835.0,97.7 L858.0,99.0 L896.0,100.0 L925.0,100.0 L933.0,100.3 L934.6,102.0 L934.8,155.0 L933.0,157.0 L896.0,157.0 L884.4,157.2 L876.0,163.5 L869.0,169.0 L862.0,162.5 L857.0,157.5 L835.0,157.7 L819.0,158.5 L781.0,161.4 L743.0,163.2 L705.0,167.0 L657.0,171.8 L619.0,175.0 L580.0,175.2 L558.0,174.7 L556.0,172.5Z" fill="none" stroke="#7a1a30" stroke-opacity="0.55" stroke-width="1" filter="url(#soft1)"/>
<g clip-path="url(#cSA)"><g filter="url(#jSA)"><rect x="10" y="250" width="410" height="165" fill="rgb(194,194,194)"/><path d="M27.5 275.5 L51.7 275.5 Q59.7 275.5 59.7 283.5 L59.7 384.0 Q59.7 392.0 51.7 392.0 L27.5 392.0 Q19.5 392.0 19.5 384.0 L19.5 283.5 Q19.5 275.5 27.5 275.5Z" fill="rgb(177,177,177)"/><path d="M35.1 279.5 L44.1 279.5 Q47.1 279.5 47.1 282.5 L47.1 297.0 C47.1 312.7 46.6 312.7 46.6 328.4 L46.6 339.1 C46.6 354.8 47.1 354.8 47.1 370.5 L47.1 385.0 Q47.1 388.0 44.1 388.0 L35.1 388.0 Q32.1 388.0 32.1 385.0 L32.1 370.5 C32.1 354.8 32.6 354.8 32.6 339.1 L32.6 328.4 C32.6 312.7 32.1 312.7 32.1 297.0 L32.1 282.5 Q32.1 279.5 35.1 279.5Z" fill="rgb(210,210,210)"/><path d="M27.5 275.5 L51.7 275.5 Q59.7 275.5 59.7 283.5 L59.7 384.0 Q59.7 392.0 51.7 392.0 L27.5 392.0 Q19.5 392.0 19.5 384.0 L19.5 283.5 Q19.5 275.5 27.5 275.5Z" fill="none" stroke="rgb(140,140,140)" stroke-width="8.4"/><path d="M27.5 275.5 L51.7 275.5 Q59.7 275.5 59.7 283.5 L59.7 384.0 Q59.7 392.0 51.7 392.0 L27.5 392.0 Q19.5 392.0 19.5 384.0 L19.5 283.5 Q19.5 275.5 27.5 275.5Z" fill="none" stroke="rgb(0,0,0)" stroke-width="4.8"/><path d="M38.8 259.0 L40.4 259.0 L42.1 274.5 C45.8 278.8 45.8 283.3 39.6 288.5 C33.4 283.3 33.4 278.8 37.1 274.5Z" fill="rgb(255,255,255)"/><path d="M38.8 408.6 L40.4 408.6 L42.1 393.0 C45.8 388.0 45.8 382.4 39.6 376.0 C33.4 382.4 33.4 388.0 37.1 393.0Z" fill="rgb(255,255,255)"/><path d="M70.5 275.5 L86.5 275.5 Q92.5 275.5 92.5 281.5 L92.5 383.5 Q92.5 389.5 86.5 389.5 L70.5 389.5 Q64.5 389.5 64.5 383.5 L64.5 281.5 Q64.5 275.5 70.5 275.5Z" fill="rgb(177,177,177)"/><path d="M73.0 279.5 L84.0 279.5 Q87.0 279.5 87.0 282.5 L87.0 296.6 C87.0 312.0 80.5 312.0 80.5 327.4 L80.5 337.6 C80.5 353.0 87.0 353.0 87.0 368.4 L87.0 382.5 Q87.0 385.5 84.0 385.5 L73.0 385.5 Q70.0 385.5 70.0 382.5 L70.0 368.4 C70.0 353.0 76.5 353.0 76.5 337.6 L76.5 327.4 C76.5 312.0 70.0 312.0 70.0 296.6 L70.0 282.5 Q70.0 279.5 73.0 279.5Z" fill="rgb(210,210,210)"/><path d="M70.5 275.5 L86.5 275.5 Q92.5 275.5 92.5 281.5 L92.5 383.5 Q92.5 389.5 86.5 389.5 L70.5 389.5 Q64.5 389.5 64.5 383.5 L64.5 281.5 Q64.5 275.5 70.5 275.5Z" fill="none" stroke="rgb(140,140,140)" stroke-width="8.4"/><path d="M70.5 275.5 L86.5 275.5 Q92.5 275.5 92.5 281.5 L92.5 383.5 Q92.5 389.5 86.5 389.5 L70.5 389.5 Q64.5 389.5 64.5 383.5 L64.5 281.5 Q64.5 275.5 70.5 275.5Z" fill="none" stroke="rgb(0,0,0)" stroke-width="4.8"/><path d="M77.7 254.7 L79.3 254.7 L81.0 274.5 C84.7 278.8 84.7 283.3 78.5 288.5 C72.3 283.3 72.3 278.8 76.0 274.5Z" fill="rgb(255,255,255)"/><path d="M77.7 411.0 L79.3 411.0 L81.0 390.5 C84.7 385.5 84.7 379.9 78.5 373.5 C72.3 379.9 72.3 385.5 76.0 390.5Z" fill="rgb(255,255,255)"/><path d="M112.6 277.0 L122.2 277.0 Q129.2 277.0 129.2 284.0 L129.2 291.6 C129.2 307.2 123.6 307.2 123.6 322.9 L123.6 343.1 C123.6 358.8 129.2 358.8 129.2 374.4 L129.2 382.0 Q129.2 389.0 122.2 389.0 L112.6 389.0 Q105.6 389.0 105.6 382.0 L105.6 374.4 C105.6 358.8 111.2 358.8 111.2 343.1 L111.2 322.9 C111.2 307.2 105.6 307.2 105.6 291.6 L105.6 284.0 Q105.6 277.0 112.6 277.0Z" fill="rgb(177,177,177)"/><path d="M114.4 281.0 L120.4 281.0 Q123.4 281.0 123.4 284.0 L123.4 297.8 C123.4 312.9 119.6 312.9 119.6 328.0 L119.6 338.0 C119.6 353.1 123.4 353.1 123.4 368.2 L123.4 382.0 Q123.4 385.0 120.4 385.0 L114.4 385.0 Q111.4 385.0 111.4 382.0 L111.4 368.2 C111.4 353.1 115.2 353.1 115.2 338.0 L115.2 328.0 C115.2 312.9 111.4 312.9 111.4 297.8 L111.4 284.0 Q111.4 281.0 114.4 281.0Z" fill="rgb(210,210,210)"/><path d="M112.6 277.0 L122.2 277.0 Q129.2 277.0 129.2 284.0 L129.2 291.6 C129.2 307.2 123.6 307.2 123.6 322.9 L123.6 343.1 C123.6 358.8 129.2 358.8 129.2 374.4 L129.2 382.0 Q129.2 389.0 122.2 389.0 L112.6 389.0 Q105.6 389.0 105.6 382.0 L105.6 374.4 C105.6 358.8 111.2 358.8 111.2 343.1 L111.2 322.9 C111.2 307.2 105.6 307.2 105.6 291.6 L105.6 284.0 Q105.6 277.0 112.6 277.0Z" fill="none" stroke="rgb(140,140,140)" stroke-width="8.4"/><path d="M112.6 277.0 L122.2 277.0 Q129.2 277.0 129.2 284.0 L129.2 291.6 C129.2 307.2 123.6 307.2 123.6 322.9 L123.6 343.1 C123.6 358.8 129.2 358.8 129.2 374.4 L129.2 382.0 Q129.2 389.0 122.2 389.0 L112.6 389.0 Q105.6 389.0 105.6 382.0 L105.6 374.4 C105.6 358.8 111.2 358.8 111.2 343.1 L111.2 322.9 C111.2 307.2 105.6 307.2 105.6 291.6 L105.6 284.0 Q105.6 277.0 112.6 277.0Z" fill="none" stroke="rgb(0,0,0)" stroke-width="4.8"/><path d="M116.6 259.0 L118.2 259.0 L119.9 276.0 C122.8 280.0 122.8 284.2 117.4 289.0 C112.0 284.2 112.0 280.0 114.9 276.0Z" fill="rgb(255,255,255)"/><path d="M116.6 411.0 L118.2 411.0 L119.9 390.0 C122.8 385.2 122.8 380.0 117.4 374.0 C112.0 380.0 112.0 385.2 114.9 390.0Z" fill="rgb(255,255,255)"/><path d="M151.4 282.4 L160.4 282.4 Q167.4 282.4 167.4 289.4 L167.4 295.7 C167.4 310.1 163.1 310.1 163.1 324.5 L163.1 342.9 C163.1 357.3 167.4 357.3 167.4 371.7 L167.4 378.0 Q167.4 385.0 160.4 385.0 L151.4 385.0 Q144.4 385.0 144.4 378.0 L144.4 371.7 C144.4 357.3 148.7 357.3 148.7 342.9 L148.7 324.5 C148.7 310.1 144.4 310.1 144.4 295.7 L144.4 289.4 Q144.4 282.4 151.4 282.4Z" fill="rgb(177,177,177)"/><path d="M152.4 286.4 L159.4 286.4 Q162.4 286.4 162.4 289.4 L162.4 301.8 C162.4 315.6 158.4 315.6 158.4 329.5 L158.4 337.9 C158.4 351.8 162.4 351.8 162.4 365.6 L162.4 378.0 Q162.4 381.0 159.4 381.0 L152.4 381.0 Q149.4 381.0 149.4 378.0 L149.4 365.6 C149.4 351.8 153.4 351.8 153.4 337.9 L153.4 329.5 C153.4 315.6 149.4 315.6 149.4 301.8 L149.4 289.4 Q149.4 286.4 152.4 286.4Z" fill="rgb(210,210,210)"/><path d="M151.4 282.4 L160.4 282.4 Q167.4 282.4 167.4 289.4 L167.4 295.7 C167.4 310.1 163.1 310.1 163.1 324.5 L163.1 342.9 C163.1 357.3 167.4 357.3 167.4 371.7 L167.4 378.0 Q167.4 385.0 160.4 385.0 L151.4 385.0 Q144.4 385.0 144.4 378.0 L144.4 371.7 C144.4 357.3 148.7 357.3 148.7 342.9 L148.7 324.5 C148.7 310.1 144.4 310.1 144.4 295.7 L144.4 289.4 Q144.4 282.4 151.4 282.4Z" fill="none" stroke="rgb(140,140,140)" stroke-width="8.4"/><path d="M151.4 282.4 L160.4 282.4 Q167.4 282.4 167.4 289.4 L167.4 295.7 C167.4 310.1 163.1 310.1 163.1 324.5 L163.1 342.9 C163.1 357.3 167.4 357.3 167.4 371.7 L167.4 378.0 Q167.4 385.0 160.4 385.0 L151.4 385.0 Q144.4 385.0 144.4 378.0 L144.4 371.7 C144.4 357.3 148.7 357.3 148.7 342.9 L148.7 324.5 C148.7 310.1 144.4 310.1 144.4 295.7 L144.4 289.4 Q144.4 282.4 151.4 282.4Z" fill="none" stroke="rgb(0,0,0)" stroke-width="4.8"/><path d="M155.1 260.0 L156.7 260.0 L158.4 281.4 C161.3 285.4 161.3 289.6 155.9 294.4 C150.5 289.6 150.5 285.4 153.4 281.4Z" fill="rgb(255,255,255)"/><path d="M155.1 407.0 L156.7 407.0 L158.4 386.0 C161.3 381.2 161.3 376.0 155.9 370.0 C150.5 376.0 150.5 381.2 153.4 386.0Z" fill="rgb(255,255,255)"/><path d="M190.2 285.0 L199.2 285.0 Q206.2 285.0 206.2 292.0 L206.2 297.5 C206.2 310.9 202.2 310.9 202.2 324.3 L202.2 341.5 C202.2 354.9 206.2 354.9 206.2 368.3 L206.2 373.8 Q206.2 380.8 199.2 380.8 L190.2 380.8 Q183.2 380.8 183.2 373.8 L183.2 368.3 C183.2 354.9 187.2 354.9 187.2 341.5 L187.2 324.3 C187.2 310.9 183.2 310.9 183.2 297.5 L183.2 292.0 Q183.2 285.0 190.2 285.0Z" fill="rgb(177,177,177)"/><path d="M191.2 289.0 L198.2 289.0 Q201.2 289.0 201.2 292.0 L201.2 303.4 C201.2 316.3 198.2 316.3 198.2 329.2 L198.2 336.6 C198.2 349.5 201.2 349.5 201.2 362.4 L201.2 373.8 Q201.2 376.8 198.2 376.8 L191.2 376.8 Q188.2 376.8 188.2 373.8 L188.2 362.4 C188.2 349.5 191.2 349.5 191.2 336.6 L191.2 329.2 C191.2 316.3 188.2 316.3 188.2 303.4 L188.2 292.0 Q188.2 289.0 191.2 289.0Z" fill="rgb(210,210,210)"/><path d="M190.2 285.0 L199.2 285.0 Q206.2 285.0 206.2 292.0 L206.2 297.5 C206.2 310.9 202.2 310.9 202.2 324.3 L202.2 341.5 C202.2 354.9 206.2 354.9 206.2 368.3 L206.2 373.8 Q206.2 380.8 199.2 380.8 L190.2 380.8 Q183.2 380.8 183.2 373.8 L183.2 368.3 C183.2 354.9 187.2 354.9 187.2 341.5 L187.2 324.3 C187.2 310.9 183.2 310.9 183.2 297.5 L183.2 292.0 Q183.2 285.0 190.2 285.0Z" fill="none" stroke="rgb(140,140,140)" stroke-width="8.4"/><path d="M190.2 285.0 L199.2 285.0 Q206.2 285.0 206.2 292.0 L206.2 297.5 C206.2 310.9 202.2 310.9 202.2 324.3 L202.2 341.5 C202.2 354.9 206.2 354.9 206.2 368.3 L206.2 373.8 Q206.2 380.8 199.2 380.8 L190.2 380.8 Q183.2 380.8 183.2 373.8 L183.2 368.3 C183.2 354.9 187.2 354.9 187.2 341.5 L187.2 324.3 C187.2 310.9 183.2 310.9 183.2 297.5 L183.2 292.0 Q183.2 285.0 190.2 285.0Z" fill="none" stroke="rgb(0,0,0)" stroke-width="4.8"/><path d="M193.9 263.0 L195.5 263.0 L197.2 284.0 C200.1 288.0 200.1 292.2 194.7 297.0 C189.3 292.2 189.3 288.0 192.2 284.0Z" fill="rgb(255,255,255)"/><path d="M193.9 404.4 L195.5 404.4 L197.2 381.8 C200.1 377.1 200.1 371.8 194.7 365.8 C189.3 371.8 189.3 377.1 192.2 381.8Z" fill="rgb(255,255,255)"/><path d="M229.2 289.4 L238.0 289.4 Q245.0 289.4 245.0 296.4 L245.0 300.9 C245.0 313.2 241.8 313.2 241.8 325.5 L241.8 341.4 C241.8 353.7 245.0 353.7 245.0 366.0 L245.0 370.5 Q245.0 377.5 238.0 377.5 L229.2 377.5 Q222.2 377.5 222.2 370.5 L222.2 366.0 C222.2 353.7 225.4 353.7 225.4 341.4 L225.4 325.5 C225.4 313.2 222.2 313.2 222.2 300.9 L222.2 296.4 Q222.2 289.4 229.2 289.4Z" fill="rgb(177,177,177)"/><path d="M229.6 293.4 L237.6 293.4 Q240.6 293.4 240.6 296.4 L240.6 306.6 C240.6 318.5 238.1 318.5 238.1 330.4 L238.1 336.5 C238.1 348.4 240.6 348.4 240.6 360.3 L240.6 370.5 Q240.6 373.5 237.6 373.5 L229.6 373.5 Q226.6 373.5 226.6 370.5 L226.6 360.3 C226.6 348.4 229.1 348.4 229.1 336.5 L229.1 330.4 C229.1 318.5 226.6 318.5 226.6 306.6 L226.6 296.4 Q226.6 293.4 229.6 293.4Z" fill="rgb(210,210,210)"/><path d="M229.2 289.4 L238.0 289.4 Q245.0 289.4 245.0 296.4 L245.0 300.9 C245.0 313.2 241.8 313.2 241.8 325.5 L241.8 341.4 C241.8 353.7 245.0 353.7 245.0 366.0 L245.0 370.5 Q245.0 377.5 238.0 377.5 L229.2 377.5 Q222.2 377.5 222.2 370.5 L222.2 366.0 C222.2 353.7 225.4 353.7 225.4 341.4 L225.4 325.5 C225.4 313.2 222.2 313.2 222.2 300.9 L222.2 296.4 Q222.2 289.4 229.2 289.4Z" fill="none" stroke="rgb(140,140,140)" stroke-width="8.4"/><path d="M229.2 289.4 L238.0 289.4 Q245.0 289.4 245.0 296.4 L245.0 300.9 C245.0 313.2 241.8 313.2 241.8 325.5 L241.8 341.4 C241.8 353.7 245.0 353.7 245.0 366.0 L245.0 370.5 Q245.0 377.5 238.0 377.5 L229.2 377.5 Q222.2 377.5 222.2 370.5 L222.2 366.0 C222.2 353.7 225.4 353.7 225.4 341.4 L225.4 325.5 C225.4 313.2 222.2 313.2 222.2 300.9 L222.2 296.4 Q222.2 289.4 229.2 289.4Z" fill="none" stroke="rgb(0,0,0)" stroke-width="4.8"/><path d="M232.8 265.0 L234.4 265.0 L236.1 288.4 C239.0 292.4 239.0 296.6 233.6 301.4 C228.2 296.6 228.2 292.4 231.1 288.4Z" fill="rgb(255,255,255)"/><path d="M232.8 400.0 L234.4 400.0 L236.1 378.5 C239.0 373.8 239.0 368.5 233.6 362.5 C228.2 368.5 228.2 373.8 231.1 378.5Z" fill="rgb(255,255,255)"/><path d="M268.1 295.0 L278.5 295.0 Q285.5 295.0 285.5 302.0 L285.5 305.1 C285.5 316.0 282.6 316.0 282.6 326.8 L282.6 340.8 C282.6 351.6 285.5 351.6 285.5 362.5 L285.5 365.6 Q285.5 372.6 278.5 372.6 L268.1 372.6 Q261.1 372.6 261.1 365.6 L261.1 362.5 C261.1 351.6 264.0 351.6 264.0 340.8 L264.0 326.8 C264.0 316.0 261.1 316.0 261.1 305.1 L261.1 302.0 Q261.1 295.0 268.1 295.0Z" fill="rgb(177,177,177)"/><path d="M268.8 299.0 L277.8 299.0 Q280.8 299.0 280.8 302.0 L280.8 310.6 C280.8 321.1 278.3 321.1 278.3 331.6 L278.3 336.0 C278.3 346.5 280.8 346.5 280.8 357.0 L280.8 365.6 Q280.8 368.6 277.8 368.6 L268.8 368.6 Q265.8 368.6 265.8 365.6 L265.8 357.0 C265.8 346.5 268.3 346.5 268.3 336.0 L268.3 331.6 C268.3 321.1 265.8 321.1 265.8 310.6 L265.8 302.0 Q265.8 299.0 268.8 299.0Z" fill="rgb(210,210,210)"/><path d="M268.1 295.0 L278.5 295.0 Q285.5 295.0 285.5 302.0 L285.5 305.1 C285.5 316.0 282.6 316.0 282.6 326.8 L282.6 340.8 C282.6 351.6 285.5 351.6 285.5 362.5 L285.5 365.6 Q285.5 372.6 278.5 372.6 L268.1 372.6 Q261.1 372.6 261.1 365.6 L261.1 362.5 C261.1 351.6 264.0 351.6 264.0 340.8 L264.0 326.8 C264.0 316.0 261.1 316.0 261.1 305.1 L261.1 302.0 Q261.1 295.0 268.1 295.0Z" fill="none" stroke="rgb(140,140,140)" stroke-width="8.4"/><path d="M268.1 295.0 L278.5 295.0 Q285.5 295.0 285.5 302.0 L285.5 305.1 C285.5 316.0 282.6 316.0 282.6 326.8 L282.6 340.8 C282.6 351.6 285.5 351.6 285.5 362.5 L285.5 365.6 Q285.5 372.6 278.5 372.6 L268.1 372.6 Q261.1 372.6 261.1 365.6 L261.1 362.5 C261.1 351.6 264.0 351.6 264.0 340.8 L264.0 326.8 C264.0 316.0 261.1 316.0 261.1 305.1 L261.1 302.0 Q261.1 295.0 268.1 295.0Z" fill="none" stroke="rgb(0,0,0)" stroke-width="4.8"/><path d="M272.5 271.3 L274.1 271.3 L275.8 294.0 C278.7 298.0 278.7 302.2 273.3 307.0 C267.9 302.2 267.9 298.0 270.8 294.0Z" fill="rgb(255,255,255)"/><path d="M272.5 396.0 L274.1 396.0 L275.8 373.6 C278.7 368.9 278.7 363.6 273.3 357.6 C267.9 363.6 267.9 368.9 270.8 373.6Z" fill="rgb(255,255,255)"/><path d="M306.0 297.0 L318.2 297.0 Q324.2 297.0 324.2 303.0 L324.2 363.0 Q324.2 369.0 318.2 369.0 L306.0 369.0 Q300.0 369.0 300.0 363.0 L300.0 303.0 Q300.0 297.0 306.0 297.0Z" fill="rgb(177,177,177)"/><path d="M308.1 301.0 L316.1 301.0 Q319.1 301.0 319.1 304.0 L319.1 311.8 C319.1 321.5 318.6 321.5 318.6 331.2 L318.6 334.8 C318.6 344.5 319.1 344.5 319.1 354.2 L319.1 362.0 Q319.1 365.0 316.1 365.0 L308.1 365.0 Q305.1 365.0 305.1 362.0 L305.1 354.2 C305.1 344.5 305.6 344.5 305.6 334.8 L305.6 331.2 C305.6 321.5 305.1 321.5 305.1 311.8 L305.1 304.0 Q305.1 301.0 308.1 301.0Z" fill="rgb(210,210,210)"/><path d="M306.0 297.0 L318.2 297.0 Q324.2 297.0 324.2 303.0 L324.2 363.0 Q324.2 369.0 318.2 369.0 L306.0 369.0 Q300.0 369.0 300.0 363.0 L300.0 303.0 Q300.0 297.0 306.0 297.0Z" fill="none" stroke="rgb(140,140,140)" stroke-width="8.4"/><path d="M306.0 297.0 L318.2 297.0 Q324.2 297.0 324.2 303.0 L324.2 363.0 Q324.2 369.0 318.2 369.0 L306.0 369.0 Q300.0 369.0 300.0 363.0 L300.0 303.0 Q300.0 297.0 306.0 297.0Z" fill="none" stroke="rgb(0,0,0)" stroke-width="4.8"/><path d="M311.3 279.7 L312.9 279.7 L314.6 296.0 C317.5 300.0 317.5 304.2 312.1 309.0 C306.7 304.2 306.7 300.0 309.6 296.0Z" fill="rgb(255,255,255)"/><path d="M311.3 387.8 L312.9 387.8 L314.6 370.0 C317.5 365.2 317.5 360.0 312.1 354.0 C306.7 360.0 306.7 365.2 309.6 370.0Z" fill="rgb(255,255,255)"/><path d="M343.7 299.0 L358.3 299.0 Q364.3 299.0 364.3 305.0 L364.3 367.0 Q364.3 373.0 358.3 373.0 L343.7 373.0 Q337.7 373.0 337.7 367.0 L337.7 305.0 Q337.7 299.0 343.7 299.0Z" fill="rgb(177,177,177)"/><path d="M347.0 303.0 L355.0 303.0 Q358.0 303.0 358.0 306.0 L358.0 314.1 C358.0 324.1 351.5 324.1 351.5 334.1 L351.5 337.9 C351.5 347.9 358.0 347.9 358.0 357.9 L358.0 366.0 Q358.0 369.0 355.0 369.0 L347.0 369.0 Q344.0 369.0 344.0 366.0 L344.0 357.9 C344.0 347.9 350.5 347.9 350.5 337.9 L350.5 334.1 C350.5 324.1 344.0 324.1 344.0 314.1 L344.0 306.0 Q344.0 303.0 347.0 303.0Z" fill="rgb(210,210,210)"/><path d="M343.7 299.0 L358.3 299.0 Q364.3 299.0 364.3 305.0 L364.3 367.0 Q364.3 373.0 358.3 373.0 L343.7 373.0 Q337.7 373.0 337.7 367.0 L337.7 305.0 Q337.7 299.0 343.7 299.0Z" fill="none" stroke="rgb(140,140,140)" stroke-width="8.4"/><path d="M343.7 299.0 L358.3 299.0 Q364.3 299.0 364.3 305.0 L364.3 367.0 Q364.3 373.0 358.3 373.0 L343.7 373.0 Q337.7 373.0 337.7 367.0 L337.7 305.0 Q337.7 299.0 343.7 299.0Z" fill="none" stroke="rgb(0,0,0)" stroke-width="4.8"/><path d="M350.2 285.0 L351.8 285.0 L353.5 298.0 C356.4 302.0 356.4 306.2 351.0 311.0 C345.6 306.2 345.6 302.0 348.5 298.0Z" fill="rgb(255,255,255)"/><path d="M350.2 389.0 L351.8 389.0 L353.5 374.0 C356.4 369.2 356.4 364.0 351.0 358.0 C345.6 364.0 345.6 369.2 348.5 374.0Z" fill="rgb(255,255,255)"/><path d="M376.5 297.7 L403.5 297.7 Q408.5 297.7 408.5 302.7 L408.5 361.0 Q408.5 366.0 403.5 366.0 L376.5 366.0 Q371.5 366.0 371.5 361.0 L371.5 302.7 Q371.5 297.7 376.5 297.7Z" fill="rgb(3,3,3)" stroke="rgb(3,3,3)" stroke-width="4"/><path d="M379.5 299.2 L400.5 299.2 L406.3 323.9 L406.3 339.9 L400.5 364.5 L379.5 364.5 L373.7 339.9 L373.7 323.9Z" fill="rgb(105,105,105)"/><path d="M381.5 300.2 L398.5 300.2 L403.6 323.9 L403.6 339.9 L398.5 363.5 L381.5 363.5 L376.4 339.9 L376.4 323.9Z" fill="rgb(145,145,145)"/><path d="M383.8 301.2 L396.2 301.2 L400.3 323.9 L400.3 339.9 L396.2 362.5 L383.8 362.5 L379.7 339.9 L379.7 323.9Z" fill="rgb(177,177,177)"/><path d="M386.0 302.7 L394.0 302.7 L396.3 323.9 L396.3 339.9 L394.0 361.0 L386.0 361.0 L383.7 339.9 L383.7 323.9Z" fill="rgb(210,210,210)"/><path d="M389.2 279.7 L390.8 279.7 L392.5 296.7 C395.4 300.7 395.4 304.9 390.0 309.7 C384.6 304.9 384.6 300.7 387.5 296.7Z" fill="rgb(255,255,255)"/><path d="M389.2 389.0 L390.8 389.0 L392.5 367.0 C395.4 362.2 395.4 357.0 390.0 351.0 C384.6 357.0 384.6 362.2 387.5 367.0Z" fill="rgb(255,255,255)"/></g></g>
<g clip-path="url(#cSB)"><g filter="url(#jSB)"><rect x="560" y="235" width="405" height="155" fill="rgb(124,124,124)"/><path d="M571.6 255.0 L596.0 255.0 Q600.0 255.0 600.0 259.0 L600.0 364.6 Q600.0 368.6 596.0 368.6 L571.6 368.6 Q567.6 368.6 567.6 364.6 L567.6 259.0 Q567.6 255.0 571.6 255.0Z" fill="rgb(80,80,80)"/><ellipse cx="576.8" cy="300.0" rx="1.2" ry="4" fill="rgb(45,45,45)"/><ellipse cx="588.8" cy="327.0" rx="1.0" ry="4" fill="rgb(45,45,45)"/><path d="M571.6 255.0 L596.0 255.0 Q600.0 255.0 600.0 259.0 L600.0 364.6 Q600.0 368.6 596.0 368.6 L571.6 368.6 Q567.6 368.6 567.6 364.6 L567.6 259.0 Q567.6 255.0 571.6 255.0Z" fill="none" stroke="rgb(112,112,112)" stroke-width="10.5"/><path d="M571.6 255.0 L596.0 255.0 Q600.0 255.0 600.0 259.0 L600.0 364.6 Q600.0 368.6 596.0 368.6 L571.6 368.6 Q567.6 368.6 567.6 364.6 L567.6 259.0 Q567.6 255.0 571.6 255.0Z" fill="none" stroke="rgb(147,147,147)" stroke-width="6"/><ellipse cx="583.8" cy="255.3" rx="11.5" ry="22" fill="rgb(112,112,112)"/><ellipse cx="583.8" cy="255.3" rx="7.6" ry="13.5" fill="rgb(145,145,145)"/><ellipse cx="583.8" cy="255.3" rx="6.2" ry="7.2" fill="rgb(177,177,177)"/><ellipse cx="583.8" cy="255.3" rx="5.6" ry="5.4" fill="rgb(209,209,209)"/><ellipse cx="583.8" cy="368.3" rx="11.5" ry="22" fill="rgb(112,112,112)"/><ellipse cx="583.8" cy="368.3" rx="7.6" ry="13.5" fill="rgb(145,145,145)"/><ellipse cx="583.8" cy="368.3" rx="6.2" ry="7.2" fill="rgb(177,177,177)"/><ellipse cx="583.8" cy="368.3" rx="5.6" ry="5.4" fill="rgb(209,209,209)"/><path d="M616.6 256.0 L632.0 256.0 Q636.0 256.0 636.0 260.0 L636.0 364.6 Q636.0 368.6 632.0 368.6 L616.6 368.6 Q612.6 368.6 612.6 364.6 L612.6 260.0 Q612.6 256.0 616.6 256.0Z" fill="rgb(80,80,80)"/><rect x="615.3" y="270" width="18" height="84.60000000000002" rx="8" fill="rgb(112,112,112)"/><rect x="617.3" y="276" width="14" height="72.60000000000002" rx="7" fill="rgb(80,80,80)"/><ellipse cx="624.6" cy="312.0" rx="5.6" ry="29" fill="rgb(48,48,48)"/><path d="M616.6 256.0 L632.0 256.0 Q636.0 256.0 636.0 260.0 L636.0 364.6 Q636.0 368.6 632.0 368.6 L616.6 368.6 Q612.6 368.6 612.6 364.6 L612.6 260.0 Q612.6 256.0 616.6 256.0Z" fill="none" stroke="rgb(112,112,112)" stroke-width="10.5"/><path d="M616.6 256.0 L632.0 256.0 Q636.0 256.0 636.0 260.0 L636.0 364.6 Q636.0 368.6 632.0 368.6 L616.6 368.6 Q612.6 368.6 612.6 364.6 L612.6 260.0 Q612.6 256.0 616.6 256.0Z" fill="none" stroke="rgb(147,147,147)" stroke-width="6"/><ellipse cx="624.3" cy="256.3" rx="14" ry="17" fill="rgb(112,112,112)"/><ellipse cx="624.3" cy="256.3" rx="13" ry="9.6" fill="rgb(145,145,145)"/><ellipse cx="624.3" cy="256.3" rx="6.8" ry="6.6" fill="rgb(177,177,177)"/><ellipse cx="624.3" cy="256.3" rx="5.8" ry="5.0" fill="rgb(209,209,209)"/><ellipse cx="624.3" cy="368.3" rx="14" ry="17" fill="rgb(112,112,112)"/><ellipse cx="624.3" cy="368.3" rx="13" ry="9.6" fill="rgb(145,145,145)"/><ellipse cx="624.3" cy="368.3" rx="6.8" ry="6.6" fill="rgb(177,177,177)"/><ellipse cx="624.3" cy="368.3" rx="5.8" ry="5.0" fill="rgb(209,209,209)"/><path d="M659.6 259.0 L668.4 259.0 Q673.9 259.0 673.9 264.5 L673.9 272.9 C673.9 287.9 669.0 287.9 669.0 302.9 L669.0 322.1 C669.0 337.1 673.9 337.1 673.9 352.1 L673.9 360.5 Q673.9 366.0 668.4 366.0 L659.6 366.0 Q654.1 366.0 654.1 360.5 L654.1 352.1 C654.1 337.1 659.0 337.1 659.0 322.1 L659.0 302.9 C659.0 287.9 654.1 287.9 654.1 272.9 L654.1 264.5 Q654.1 259.0 659.6 259.0Z" fill="rgb(80,80,80)"/><ellipse cx="658.0" cy="280.0" rx="3" ry="7" fill="rgb(45,45,45)"/><ellipse cx="670.0" cy="278.0" rx="3" ry="7" fill="rgb(45,45,45)"/><ellipse cx="664.0" cy="283.0" rx="6" ry="2.5" fill="rgb(45,45,45)"/><ellipse cx="664.0" cy="312.0" rx="2.0" ry="14" fill="rgb(112,112,112)"/><ellipse cx="658.0" cy="348.0" rx="3" ry="6" fill="rgb(45,45,45)"/><ellipse cx="670.0" cy="350.0" rx="3" ry="6" fill="rgb(45,45,45)"/><ellipse cx="665.0" cy="345.0" rx="6" ry="2.2" fill="rgb(45,45,45)"/><path d="M659.6 259.0 L668.4 259.0 Q673.9 259.0 673.9 264.5 L673.9 272.9 C673.9 287.9 669.0 287.9 669.0 302.9 L669.0 322.1 C669.0 337.1 673.9 337.1 673.9 352.1 L673.9 360.5 Q673.9 366.0 668.4 366.0 L659.6 366.0 Q654.1 366.0 654.1 360.5 L654.1 352.1 C654.1 337.1 659.0 337.1 659.0 322.1 L659.0 302.9 C659.0 287.9 654.1 287.9 654.1 272.9 L654.1 264.5 Q654.1 259.0 659.6 259.0Z" fill="none" stroke="rgb(118,118,118)" stroke-width="4.6"/><ellipse cx="659.2" cy="312.0" rx="1.6" ry="13" fill="rgb(38,38,38)"/><ellipse cx="668.8" cy="312.0" rx="1.6" ry="13" fill="rgb(38,38,38)"/><ellipse cx="664.0" cy="259.3" rx="9.6" ry="15.5" fill="rgb(112,112,112)"/><ellipse cx="664.0" cy="259.3" rx="7.0" ry="10" fill="rgb(145,145,145)"/><ellipse cx="664.0" cy="259.3" rx="5.9" ry="6.8" fill="rgb(177,177,177)"/><ellipse cx="664.0" cy="259.3" rx="5.1" ry="5.0" fill="rgb(209,209,209)"/><ellipse cx="664.0" cy="365.7" rx="9.6" ry="15.5" fill="rgb(112,112,112)"/><ellipse cx="664.0" cy="365.7" rx="7.0" ry="10" fill="rgb(145,145,145)"/><ellipse cx="664.0" cy="365.7" rx="5.9" ry="6.8" fill="rgb(177,177,177)"/><ellipse cx="664.0" cy="365.7" rx="5.1" ry="5.0" fill="rgb(209,209,209)"/><path d="M698.6 263.3 L708.4 263.3 Q713.9 263.3 713.9 268.8 L713.9 276.3 C713.9 290.2 710.2 290.2 710.2 304.2 L710.2 322.1 C710.2 336.1 713.9 336.1 713.9 350.0 L713.9 357.5 Q713.9 363.0 708.4 363.0 L698.6 363.0 Q693.1 363.0 693.1 357.5 L693.1 350.0 C693.1 336.1 696.8 336.1 696.8 322.1 L696.8 304.2 C696.8 290.2 693.1 290.2 693.1 276.3 L693.1 268.8 Q693.1 263.3 698.6 263.3Z" fill="rgb(80,80,80)"/><ellipse cx="703.5" cy="313.1" rx="4.5" ry="13" fill="rgb(112,112,112)"/><path d="M698.6 263.3 L708.4 263.3 Q713.9 263.3 713.9 268.8 L713.9 276.3 C713.9 290.2 710.2 290.2 710.2 304.2 L710.2 322.1 C710.2 336.1 713.9 336.1 713.9 350.0 L713.9 357.5 Q713.9 363.0 708.4 363.0 L698.6 363.0 Q693.1 363.0 693.1 357.5 L693.1 350.0 C693.1 336.1 696.8 336.1 696.8 322.1 L696.8 304.2 C696.8 290.2 693.1 290.2 693.1 276.3 L693.1 268.8 Q693.1 263.3 698.6 263.3Z" fill="none" stroke="rgb(112,112,112)" stroke-width="4.6"/><ellipse cx="696.8" cy="313.1" rx="1.7" ry="10" fill="rgb(38,38,38)"/><ellipse cx="710.2" cy="313.1" rx="1.7" ry="10" fill="rgb(38,38,38)"/><ellipse cx="693.1" cy="281.3" rx="2.5" ry="7.5" fill="rgb(38,38,38)"/><ellipse cx="713.9" cy="281.3" rx="2.5" ry="7.5" fill="rgb(38,38,38)"/><ellipse cx="693.1" cy="345.0" rx="2.5" ry="7.5" fill="rgb(38,38,38)"/><ellipse cx="713.9" cy="345.0" rx="2.5" ry="7.5" fill="rgb(38,38,38)"/><ellipse cx="703.5" cy="263.6" rx="9.6" ry="15.5" fill="rgb(112,112,112)"/><ellipse cx="703.5" cy="263.6" rx="7.0" ry="10" fill="rgb(145,145,145)"/><ellipse cx="703.5" cy="263.6" rx="5.9" ry="6.8" fill="rgb(177,177,177)"/><ellipse cx="703.5" cy="263.6" rx="5.1" ry="5.0" fill="rgb(209,209,209)"/><ellipse cx="703.5" cy="362.7" rx="9.6" ry="15.5" fill="rgb(112,112,112)"/><ellipse cx="703.5" cy="362.7" rx="7.0" ry="10" fill="rgb(145,145,145)"/><ellipse cx="703.5" cy="362.7" rx="5.9" ry="6.8" fill="rgb(177,177,177)"/><ellipse cx="703.5" cy="362.7" rx="5.1" ry="5.0" fill="rgb(209,209,209)"/><path d="M738.8 267.4 L748.8 267.4 Q754.3 267.4 754.3 272.9 L754.3 279.5 C754.3 292.5 750.1 292.5 750.1 305.5 L750.1 322.2 C750.1 335.2 754.3 335.2 754.3 348.2 L754.3 354.8 Q754.3 360.3 748.8 360.3 L738.8 360.3 Q733.3 360.3 733.3 354.8 L733.3 348.2 C733.3 335.2 737.5 335.2 737.5 322.2 L737.5 305.5 C737.5 292.5 733.3 292.5 733.3 279.5 L733.3 272.9 Q733.3 267.4 738.8 267.4Z" fill="rgb(80,80,80)"/><ellipse cx="743.8" cy="313.9" rx="4.5" ry="13" fill="rgb(112,112,112)"/><path d="M738.8 267.4 L748.8 267.4 Q754.3 267.4 754.3 272.9 L754.3 279.5 C754.3 292.5 750.1 292.5 750.1 305.5 L750.1 322.2 C750.1 335.2 754.3 335.2 754.3 348.2 L754.3 354.8 Q754.3 360.3 748.8 360.3 L738.8 360.3 Q733.3 360.3 733.3 354.8 L733.3 348.2 C733.3 335.2 737.5 335.2 737.5 322.2 L737.5 305.5 C737.5 292.5 733.3 292.5 733.3 279.5 L733.3 272.9 Q733.3 267.4 738.8 267.4Z" fill="none" stroke="rgb(112,112,112)" stroke-width="4.6"/><ellipse cx="737.5" cy="313.9" rx="1.7" ry="10" fill="rgb(38,38,38)"/><ellipse cx="750.1" cy="313.9" rx="1.7" ry="10" fill="rgb(38,38,38)"/><ellipse cx="733.3" cy="285.4" rx="2.5" ry="7.5" fill="rgb(38,38,38)"/><ellipse cx="754.3" cy="285.4" rx="2.5" ry="7.5" fill="rgb(38,38,38)"/><ellipse cx="733.3" cy="342.3" rx="2.5" ry="7.5" fill="rgb(38,38,38)"/><ellipse cx="754.3" cy="342.3" rx="2.5" ry="7.5" fill="rgb(38,38,38)"/><ellipse cx="743.8" cy="267.7" rx="9.6" ry="15.5" fill="rgb(112,112,112)"/><ellipse cx="743.8" cy="267.7" rx="7.0" ry="10" fill="rgb(145,145,145)"/><ellipse cx="743.8" cy="267.7" rx="5.9" ry="6.8" fill="rgb(177,177,177)"/><ellipse cx="743.8" cy="267.7" rx="5.1" ry="5.0" fill="rgb(209,209,209)"/><ellipse cx="743.8" cy="360.0" rx="9.6" ry="15.5" fill="rgb(112,112,112)"/><ellipse cx="743.8" cy="360.0" rx="7.0" ry="10" fill="rgb(145,145,145)"/><ellipse cx="743.8" cy="360.0" rx="5.9" ry="6.8" fill="rgb(177,177,177)"/><ellipse cx="743.8" cy="360.0" rx="5.1" ry="5.0" fill="rgb(209,209,209)"/><path d="M778.4 271.6 L788.2 271.6 Q793.7 271.6 793.7 277.1 L793.7 282.8 C793.7 294.8 790.5 294.8 790.5 306.8 L790.5 322.3 C790.5 334.3 793.7 334.3 793.7 346.3 L793.7 352.0 Q793.7 357.5 788.2 357.5 L778.4 357.5 Q772.9 357.5 772.9 352.0 L772.9 346.3 C772.9 334.3 776.1 334.3 776.1 322.3 L776.1 306.8 C776.1 294.8 772.9 294.8 772.9 282.8 L772.9 277.1 Q772.9 271.6 778.4 271.6Z" fill="rgb(80,80,80)"/><ellipse cx="783.3" cy="314.6" rx="4.5" ry="13" fill="rgb(112,112,112)"/><path d="M778.4 271.6 L788.2 271.6 Q793.7 271.6 793.7 277.1 L793.7 282.8 C793.7 294.8 790.5 294.8 790.5 306.8 L790.5 322.3 C790.5 334.3 793.7 334.3 793.7 346.3 L793.7 352.0 Q793.7 357.5 788.2 357.5 L778.4 357.5 Q772.9 357.5 772.9 352.0 L772.9 346.3 C772.9 334.3 776.1 334.3 776.1 322.3 L776.1 306.8 C776.1 294.8 772.9 294.8 772.9 282.8 L772.9 277.1 Q772.9 271.6 778.4 271.6Z" fill="none" stroke="rgb(112,112,112)" stroke-width="4.6"/><ellipse cx="776.1" cy="314.6" rx="1.7" ry="10" fill="rgb(38,38,38)"/><ellipse cx="790.5" cy="314.6" rx="1.7" ry="10" fill="rgb(38,38,38)"/><ellipse cx="772.9" cy="289.6" rx="2.5" ry="7.5" fill="rgb(38,38,38)"/><ellipse cx="793.7" cy="289.6" rx="2.5" ry="7.5" fill="rgb(38,38,38)"/><ellipse cx="772.9" cy="339.5" rx="2.5" ry="7.5" fill="rgb(38,38,38)"/><ellipse cx="793.7" cy="339.5" rx="2.5" ry="7.5" fill="rgb(38,38,38)"/><ellipse cx="783.3" cy="271.9" rx="9.6" ry="15.5" fill="rgb(112,112,112)"/><ellipse cx="783.3" cy="271.9" rx="7.0" ry="10" fill="rgb(145,145,145)"/><ellipse cx="783.3" cy="271.9" rx="5.9" ry="6.8" fill="rgb(177,177,177)"/><ellipse cx="783.3" cy="271.9" rx="5.1" ry="5.0" fill="rgb(209,209,209)"/><ellipse cx="783.3" cy="357.2" rx="9.6" ry="15.5" fill="rgb(112,112,112)"/><ellipse cx="783.3" cy="357.2" rx="7.0" ry="10" fill="rgb(145,145,145)"/><ellipse cx="783.3" cy="357.2" rx="5.9" ry="6.8" fill="rgb(177,177,177)"/><ellipse cx="783.3" cy="357.2" rx="5.1" ry="5.0" fill="rgb(209,209,209)"/><path d="M818.5 277.0 L829.1 277.0 Q834.6 277.0 834.6 282.5 L834.6 286.9 C834.6 297.6 831.3 297.6 831.3 308.3 L831.3 322.1 C831.3 332.8 834.6 332.8 834.6 343.5 L834.6 347.9 Q834.6 353.4 829.1 353.4 L818.5 353.4 Q813.0 353.4 813.0 347.9 L813.0 343.5 C813.0 332.8 816.3 332.8 816.3 322.1 L816.3 308.3 C816.3 297.6 813.0 297.6 813.0 286.9 L813.0 282.5 Q813.0 277.0 818.5 277.0Z" fill="rgb(80,80,80)"/><ellipse cx="823.8" cy="315.2" rx="4.5" ry="13" fill="rgb(112,112,112)"/><path d="M818.5 277.0 L829.1 277.0 Q834.6 277.0 834.6 282.5 L834.6 286.9 C834.6 297.6 831.3 297.6 831.3 308.3 L831.3 322.1 C831.3 332.8 834.6 332.8 834.6 343.5 L834.6 347.9 Q834.6 353.4 829.1 353.4 L818.5 353.4 Q813.0 353.4 813.0 347.9 L813.0 343.5 C813.0 332.8 816.3 332.8 816.3 322.1 L816.3 308.3 C816.3 297.6 813.0 297.6 813.0 286.9 L813.0 282.5 Q813.0 277.0 818.5 277.0Z" fill="none" stroke="rgb(112,112,112)" stroke-width="4.6"/><ellipse cx="816.3" cy="315.2" rx="1.7" ry="10" fill="rgb(38,38,38)"/><ellipse cx="831.3" cy="315.2" rx="1.7" ry="10" fill="rgb(38,38,38)"/><ellipse cx="813.0" cy="295.0" rx="2.5" ry="7.5" fill="rgb(38,38,38)"/><ellipse cx="834.6" cy="295.0" rx="2.5" ry="7.5" fill="rgb(38,38,38)"/><ellipse cx="813.0" cy="335.4" rx="2.5" ry="7.5" fill="rgb(38,38,38)"/><ellipse cx="834.6" cy="335.4" rx="2.5" ry="7.5" fill="rgb(38,38,38)"/><ellipse cx="823.8" cy="277.3" rx="9.6" ry="15.5" fill="rgb(112,112,112)"/><ellipse cx="823.8" cy="277.3" rx="7.0" ry="10" fill="rgb(145,145,145)"/><ellipse cx="823.8" cy="277.3" rx="5.9" ry="6.8" fill="rgb(177,177,177)"/><ellipse cx="823.8" cy="277.3" rx="5.1" ry="5.0" fill="rgb(209,209,209)"/><ellipse cx="823.8" cy="353.1" rx="9.6" ry="15.5" fill="rgb(112,112,112)"/><ellipse cx="823.8" cy="353.1" rx="7.0" ry="10" fill="rgb(145,145,145)"/><ellipse cx="823.8" cy="353.1" rx="5.9" ry="6.8" fill="rgb(177,177,177)"/><ellipse cx="823.8" cy="353.1" rx="5.1" ry="5.0" fill="rgb(209,209,209)"/><path d="M856.7 280.0 L869.5 280.0 Q873.5 280.0 873.5 284.0 L873.5 345.0 Q873.5 349.0 869.5 349.0 L856.7 349.0 Q852.7 349.0 852.7 345.0 L852.7 284.0 Q852.7 280.0 856.7 280.0Z" fill="rgb(80,80,80)"/><path d="M856.7 280.0 L869.5 280.0 Q873.5 280.0 873.5 284.0 L873.5 345.0 Q873.5 349.0 869.5 349.0 L856.7 349.0 Q852.7 349.0 852.7 345.0 L852.7 284.0 Q852.7 280.0 856.7 280.0Z" fill="none" stroke="rgb(112,112,112)" stroke-width="4.6"/><ellipse cx="853.9" cy="297.0" rx="4.2" ry="15" fill="rgb(41,41,41)"/><ellipse cx="853.9" cy="334.0" rx="4.2" ry="13" fill="rgb(41,41,41)"/><ellipse cx="872.3" cy="297.0" rx="4.2" ry="15" fill="rgb(41,41,41)"/><ellipse cx="872.3" cy="334.0" rx="4.2" ry="13" fill="rgb(41,41,41)"/><ellipse cx="863.1" cy="280.3" rx="9.6" ry="15.5" fill="rgb(112,112,112)"/><ellipse cx="863.1" cy="280.3" rx="7.0" ry="10" fill="rgb(145,145,145)"/><ellipse cx="863.1" cy="280.3" rx="5.9" ry="6.8" fill="rgb(177,177,177)"/><ellipse cx="863.1" cy="280.3" rx="5.1" ry="5.0" fill="rgb(209,209,209)"/><ellipse cx="863.1" cy="348.7" rx="9.6" ry="15.5" fill="rgb(112,112,112)"/><ellipse cx="863.1" cy="348.7" rx="7.0" ry="10" fill="rgb(145,145,145)"/><ellipse cx="863.1" cy="348.7" rx="5.9" ry="6.8" fill="rgb(177,177,177)"/><ellipse cx="863.1" cy="348.7" rx="5.1" ry="5.0" fill="rgb(209,209,209)"/><path d="M895.5 284.0 L909.7 284.0 Q913.7 284.0 913.7 288.0 L913.7 348.0 Q913.7 352.0 909.7 352.0 L895.5 352.0 Q891.5 352.0 891.5 348.0 L891.5 288.0 Q891.5 284.0 895.5 284.0Z" fill="rgb(80,80,80)"/><path d="M893.6 296 Q902.6 290 911.6 296 L912.1 322 Q904.6 333 894.6 327 Z" fill="rgb(41,41,41)"/><path d="M891.6 336 Q902.6 332 913.6 338" stroke="rgb(112,112,112)" stroke-width="4" fill="none"/><path d="M895.5 284.0 L909.7 284.0 Q913.7 284.0 913.7 288.0 L913.7 348.0 Q913.7 352.0 909.7 352.0 L895.5 352.0 Q891.5 352.0 891.5 348.0 L891.5 288.0 Q891.5 284.0 895.5 284.0Z" fill="none" stroke="rgb(118,118,118)" stroke-width="4.6"/><ellipse cx="902.6" cy="284.3" rx="9.6" ry="15.5" fill="rgb(112,112,112)"/><ellipse cx="902.6" cy="284.3" rx="7.0" ry="10" fill="rgb(145,145,145)"/><ellipse cx="902.6" cy="284.3" rx="5.9" ry="6.8" fill="rgb(177,177,177)"/><ellipse cx="902.6" cy="284.3" rx="5.1" ry="5.0" fill="rgb(209,209,209)"/><ellipse cx="902.6" cy="351.7" rx="9.6" ry="15.5" fill="rgb(112,112,112)"/><ellipse cx="902.6" cy="351.7" rx="7.0" ry="10" fill="rgb(145,145,145)"/><ellipse cx="902.6" cy="351.7" rx="5.9" ry="6.8" fill="rgb(177,177,177)"/><ellipse cx="902.6" cy="351.7" rx="5.1" ry="5.0" fill="rgb(209,209,209)"/><path d="M930.8 282.7 L954.4 282.7 Q958.4 282.7 958.4 286.7 L958.4 345.8 Q958.4 349.8 954.4 349.8 L930.8 349.8 Q926.8 349.8 926.8 345.8 L926.8 286.7 Q926.8 282.7 930.8 282.7Z" fill="rgb(80,80,80)"/><path d="M932.6 290.7 L952.6 341.8 M952.6 290.7 L932.6 341.8" stroke="rgb(112,112,112)" stroke-width="5" fill="none"/><ellipse cx="934.1" cy="310.2" rx="1.6" ry="10" fill="rgb(45,45,45)"/><ellipse cx="951.1" cy="310.2" rx="1.6" ry="10" fill="rgb(45,45,45)"/><path d="M930.8 282.7 L954.4 282.7 Q958.4 282.7 958.4 286.7 L958.4 345.8 Q958.4 349.8 954.4 349.8 L930.8 349.8 Q926.8 349.8 926.8 345.8 L926.8 286.7 Q926.8 282.7 930.8 282.7Z" fill="none" stroke="rgb(112,112,112)" stroke-width="10.5"/><path d="M930.8 282.7 L954.4 282.7 Q958.4 282.7 958.4 286.7 L958.4 345.8 Q958.4 349.8 954.4 349.8 L930.8 349.8 Q926.8 349.8 926.8 345.8 L926.8 286.7 Q926.8 282.7 930.8 282.7Z" fill="none" stroke="rgb(147,147,147)" stroke-width="6"/><ellipse cx="942.6" cy="283.0" rx="14" ry="17" fill="rgb(112,112,112)"/><ellipse cx="942.6" cy="283.0" rx="13" ry="9.6" fill="rgb(145,145,145)"/><ellipse cx="942.6" cy="283.0" rx="6.8" ry="6.6" fill="rgb(177,177,177)"/><ellipse cx="942.6" cy="283.0" rx="5.8" ry="5.0" fill="rgb(209,209,209)"/><ellipse cx="942.6" cy="349.5" rx="14" ry="17" fill="rgb(112,112,112)"/><ellipse cx="942.6" cy="349.5" rx="13" ry="9.6" fill="rgb(145,145,145)"/><ellipse cx="942.6" cy="349.5" rx="6.8" ry="6.6" fill="rgb(177,177,177)"/><ellipse cx="942.6" cy="349.5" rx="5.8" ry="5.0" fill="rgb(209,209,209)"/><ellipse cx="931.1" cy="288.2" rx="4.6" ry="5.6" fill="rgb(35,35,35)"/><ellipse cx="931.1" cy="344.3" rx="4.6" ry="5.6" fill="rgb(35,35,35)"/><ellipse cx="954.1" cy="288.2" rx="4.6" ry="5.6" fill="rgb(35,35,35)"/><ellipse cx="954.1" cy="344.3" rx="4.6" ry="5.6" fill="rgb(35,35,35)"/></g></g>
<g fill="#d2213a" filter="url(#soft2)"><path d="M582.1 242.6 Q583.8 240.0 585.5 242.6 L585.6 249.0 Q586.0 253.5 588.8 255.3 Q586.8 258.4 583.8 258.4 Q580.8 258.4 578.8 255.3 Q581.6 253.5 582.0 249.0Z"/><path d="M582.1 382.4 Q583.8 385.0 585.5 382.4 L585.6 374.6 Q586.0 370.1 588.8 368.3 Q586.8 365.2 583.8 365.2 Q580.8 365.2 578.8 368.3 Q581.6 370.1 582.0 374.6Z"/><path d="M622.6 241.3 Q624.3 238.7 626.0 241.3 L626.1 250.0 Q626.5 254.5 629.3 256.3 Q627.3 259.4 624.3 259.4 Q621.3 259.4 619.3 256.3 Q622.1 254.5 622.5 250.0Z"/><path d="M622.6 383.4 Q624.3 386.0 626.0 383.4 L626.1 374.6 Q626.5 370.1 629.3 368.3 Q627.3 365.2 624.3 365.2 Q621.3 365.2 619.3 368.3 Q622.1 370.1 622.5 374.6Z"/><path d="M662.3 244.1 Q664.0 241.5 665.7 244.1 L665.8 253.0 Q666.2 257.5 668.6 259.3 Q666.7 262.4 664.0 262.4 Q661.3 262.4 659.4 259.3 Q661.8 257.5 662.2 253.0Z"/><path d="M662.3 383.4 Q664.0 386.0 665.7 383.4 L665.8 372.0 Q666.2 367.5 668.6 365.7 Q666.7 362.6 664.0 362.6 Q661.3 362.6 659.4 365.7 Q661.8 367.5 662.2 372.0Z"/><path d="M701.8 244.9 Q703.5 242.3 705.2 244.9 L705.3 257.3 Q705.7 261.8 708.3 263.6 Q706.4 266.7 703.5 266.7 Q700.6 266.7 698.7 263.6 Q701.3 261.8 701.7 257.3Z"/><path d="M701.8 383.1 Q703.5 385.7 705.2 383.1 L705.3 369.0 Q705.7 364.5 708.3 362.7 Q706.4 359.6 703.5 359.6 Q700.6 359.6 698.7 362.7 Q701.3 364.5 701.7 369.0Z"/><path d="M742.1 248.2 Q743.8 245.6 745.5 248.2 L745.6 261.4 Q746.0 265.9 748.6 267.7 Q746.7 270.8 743.8 270.8 Q740.9 270.8 739.0 267.7 Q741.6 265.9 742.0 261.4Z"/><path d="M742.1 380.9 Q743.8 383.5 745.5 380.9 L745.6 366.3 Q746.0 361.8 748.6 360.0 Q746.7 356.9 743.8 356.9 Q740.9 356.9 739.0 360.0 Q741.6 361.8 742.0 366.3Z"/><path d="M781.6 251.6 Q783.3 249.0 785.0 251.6 L785.1 265.6 Q785.5 270.1 788.1 271.9 Q786.2 275.0 783.3 275.0 Q780.4 275.0 778.5 271.9 Q781.1 270.1 781.5 265.6Z"/><path d="M781.6 378.1 Q783.3 380.7 785.0 378.1 L785.1 363.5 Q785.5 359.0 788.1 357.2 Q786.2 354.1 783.3 354.1 Q780.4 354.1 778.5 357.2 Q781.1 359.0 781.5 363.5Z"/><path d="M822.1 256.6 Q823.8 254.0 825.5 256.6 L825.6 271.0 Q826.0 275.5 828.8 277.3 Q826.8 280.4 823.8 280.4 Q820.8 280.4 818.8 277.3 Q821.6 275.5 822.0 271.0Z"/><path d="M822.1 374.0 Q823.8 376.6 825.5 374.0 L825.6 359.4 Q826.0 354.9 828.8 353.1 Q826.8 350.0 823.8 350.0 Q820.8 350.0 818.8 353.1 Q821.6 354.9 822.0 359.4Z"/><path d="M861.4 266.3 Q863.1 263.7 864.8 266.3 L864.9 274.0 Q865.3 278.5 867.9 280.3 Q866.0 283.4 863.1 283.4 Q860.2 283.4 858.3 280.3 Q860.9 278.5 861.3 274.0Z"/><path d="M861.4 368.4 Q863.1 371.0 864.8 368.4 L864.9 355.0 Q865.3 350.5 867.9 348.7 Q866.0 345.6 863.1 345.6 Q860.2 345.6 858.3 348.7 Q860.9 350.5 861.3 355.0Z"/><path d="M900.9 271.6 Q902.6 269.0 904.3 271.6 L904.4 278.0 Q904.8 282.5 907.6 284.3 Q905.6 287.4 902.6 287.4 Q899.6 287.4 897.6 284.3 Q900.4 282.5 900.8 278.0Z"/><path d="M900.9 368.4 Q902.6 371.0 904.3 368.4 L904.4 358.0 Q904.8 353.5 907.6 351.7 Q905.6 348.6 902.6 348.6 Q899.6 348.6 897.6 351.7 Q900.4 353.5 900.8 358.0Z"/><path d="M940.9 267.6 Q942.6 265.0 944.3 267.6 L944.4 276.7 Q944.8 281.2 947.6 283.0 Q945.6 286.1 942.6 286.1 Q939.6 286.1 937.6 283.0 Q940.4 281.2 940.8 276.7Z"/><path d="M940.9 367.1 Q942.6 369.7 944.3 367.1 L944.4 355.8 Q944.8 351.3 947.6 349.5 Q945.6 346.4 942.6 346.4 Q939.6 346.4 937.6 349.5 Q940.4 351.3 940.8 355.8Z"/></g>
<g stroke="#111" stroke-width="1.9"><line x1="42" y1="48.7" x2="42" y2="230.3"/><line x1="81" y1="48.7" x2="81" y2="230.3"/><line x1="119" y1="48.7" x2="119" y2="230.3"/><line x1="156.5" y1="48.7" x2="156.5" y2="230.3"/><line x1="195" y1="48.7" x2="195" y2="230.3"/><line x1="233" y1="48.7" x2="233" y2="230.3"/><line x1="271.5" y1="48.7" x2="271.5" y2="230.3"/><line x1="310" y1="48.7" x2="310" y2="230.3"/><line x1="348" y1="48.7" x2="348" y2="230.3"/><line x1="384" y1="48.7" x2="384" y2="230.3"/></g>
<g stroke="#111" stroke-width="1.9"><line x1="580.5" y1="39" x2="580.5" y2="220.2"/><line x1="619.5" y1="39" x2="619.5" y2="220.2"/><line x1="657" y1="39" x2="657" y2="220.2"/><line x1="705" y1="39" x2="705" y2="220.2"/><line x1="743.5" y1="39" x2="743.5" y2="220.2"/><line x1="781.5" y1="39" x2="781.5" y2="220.2"/><line x1="819.5" y1="39" x2="819.5" y2="220.2"/><line x1="858" y1="39" x2="858" y2="220.2"/><line x1="896" y1="39" x2="896" y2="220.2"/><line x1="925" y1="39" x2="925" y2="220.2"/></g>
</svg>
</body></html>
